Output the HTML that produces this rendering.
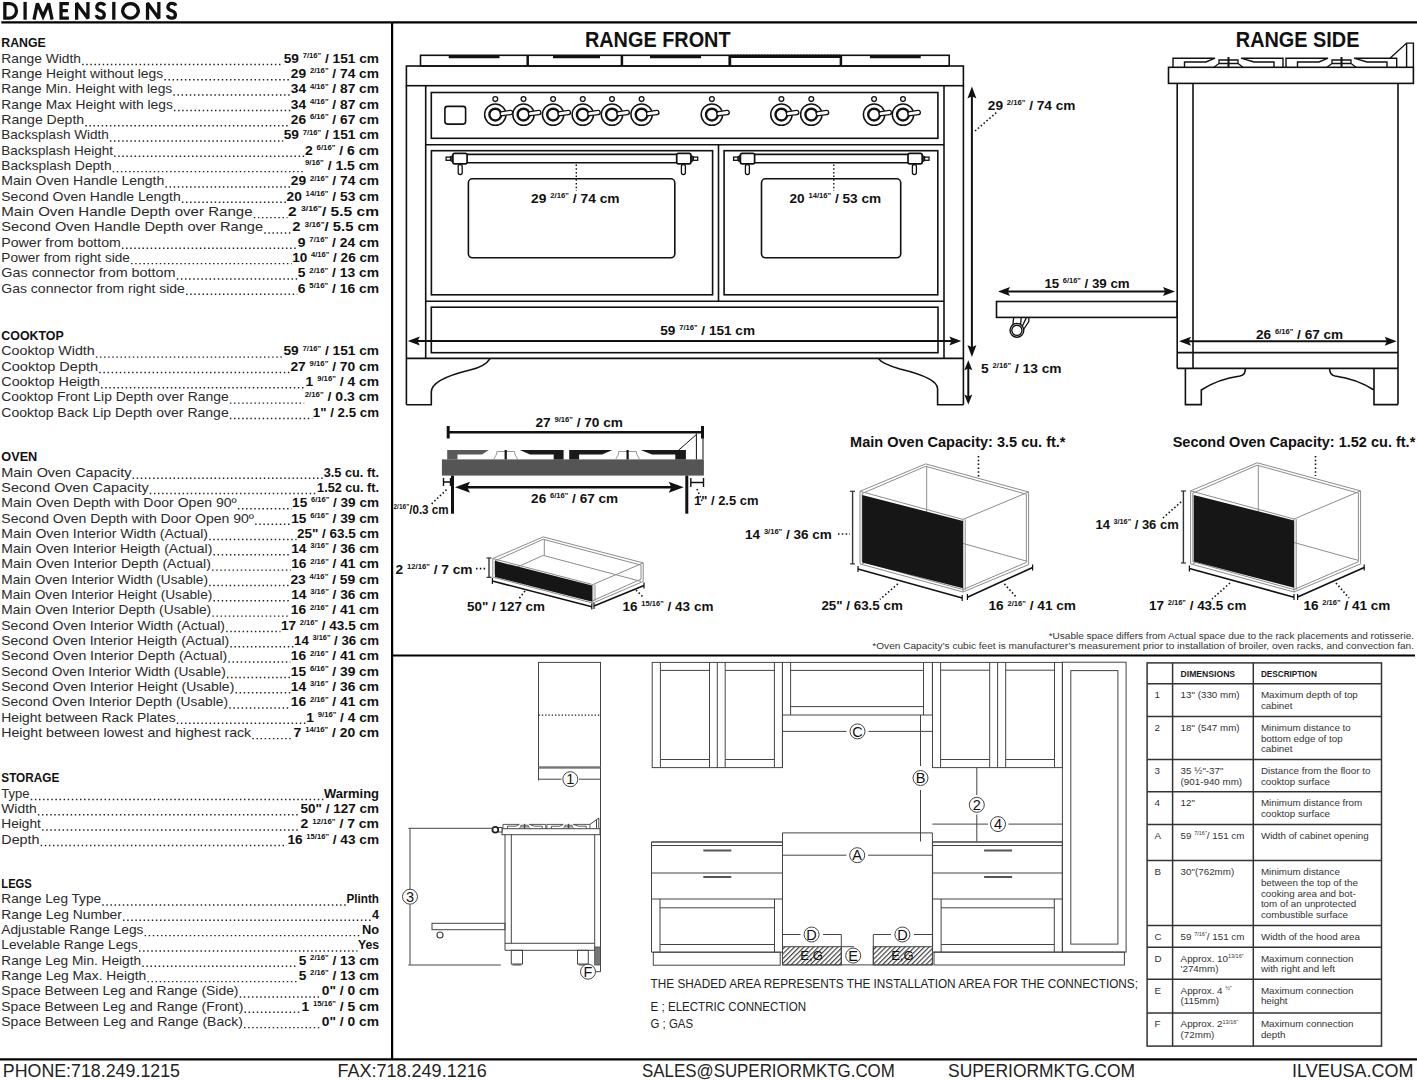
<!DOCTYPE html>
<html><head><meta charset="utf-8"><title>Dimensions</title>
<style>html,body{margin:0;padding:0;background:#fff;width:1417px;height:1080px;overflow:hidden}
svg{display:block} text{font-family:"Liberation Sans", sans-serif}</style></head>
<body><svg width="1417" height="1080" viewBox="0 0 1417 1080">
<rect width="1417" height="1080" fill="#fff"/>
<path d="M4.85,3.55 H9.9 A6.55,7.25 0 0 1 9.9,18.05 H4.85 Z" fill="none" stroke="#111" stroke-width="3.3" stroke-linejoin="miter" stroke-miterlimit="3"/>
<path d="M25.1,1.9 V19.7" fill="none" stroke="#111" stroke-width="3.3" stroke-linejoin="miter" stroke-miterlimit="3"/>
<path d="M34.0,19.7 L37.4,3.3 L43.05,16.6 L48.7,3.3 L52.1,19.7" fill="none" stroke="#111" stroke-width="3.3" stroke-linejoin="miter" stroke-miterlimit="3"/>
<path d="M68.9,3.55 H61.05 V18.05 H68.9 M61.05,10.7 H67.9" fill="none" stroke="#111" stroke-width="3.3" stroke-linejoin="miter" stroke-miterlimit="3"/>
<path d="M76.65,19.7 V3.0 L87.95,18.6 V1.9" fill="none" stroke="#111" stroke-width="3.3" stroke-linejoin="miter" stroke-miterlimit="3"/>
<path d="M104.69999999999999,5.6 C104.0,3.9 102.5,3.45 100.69999999999999,3.45 C98.39999999999999,3.45 96.8,4.9 96.8,6.9 C96.8,9.2 98.69999999999999,10.1 100.69999999999999,10.8 C103.0,11.6 104.3,12.8 104.3,14.9 C104.3,17 102.69999999999999,18.15 100.5,18.15 C98.3,18.15 96.69999999999999,17 96.19999999999999,15.1" fill="none" stroke="#111" stroke-width="3.3" stroke-linejoin="miter" stroke-miterlimit="3"/>
<path d="M113.8,1.9 V19.7" fill="none" stroke="#111" stroke-width="3.3" stroke-linejoin="miter" stroke-miterlimit="3"/>
<path d="M130.5,3.55 A7.75,7.25 0 1 1 130.49,3.55 Z" fill="none" stroke="#111" stroke-width="3.3" stroke-linejoin="miter" stroke-miterlimit="3"/>
<path d="M147.55,19.7 V3.0 L158.85,18.6 V1.9" fill="none" stroke="#111" stroke-width="3.3" stroke-linejoin="miter" stroke-miterlimit="3"/>
<path d="M175.79999999999998,5.6 C175.1,3.9 173.6,3.45 171.79999999999998,3.45 C169.5,3.45 167.89999999999998,4.9 167.89999999999998,6.9 C167.89999999999998,9.2 169.79999999999998,10.1 171.79999999999998,10.8 C174.1,11.6 175.39999999999998,12.8 175.39999999999998,14.9 C175.39999999999998,17 173.79999999999998,18.15 171.6,18.15 C169.39999999999998,18.15 167.79999999999998,17 167.29999999999998,15.1" fill="none" stroke="#111" stroke-width="3.3" stroke-linejoin="miter" stroke-miterlimit="3"/>
<line x1="1.3" y1="22.4" x2="1417.0" y2="22.4" stroke="#000" stroke-width="2.4"/>
<line x1="392.1" y1="22.0" x2="392.1" y2="1059.4" stroke="#000" stroke-width="2.2"/>
<line x1="392.1" y1="655.5" x2="1415.0" y2="655.5" stroke="#000" stroke-width="2.2"/>
<line x1="0.0" y1="1059.4" x2="1417.0" y2="1059.4" stroke="#000" stroke-width="2.2"/>
<text x="1.3" y="47.3" font-size="13" font-weight="bold" fill="#111" text-anchor="start" textLength="44.5" lengthAdjust="spacingAndGlyphs">RANGE</text>
<text x="1.3" y="62.7" font-size="13.2" font-weight="normal" fill="#2a2a2a" text-anchor="start" textLength="79.7" lengthAdjust="spacingAndGlyphs">Range Width</text>
<line x1="82.2" y1="64.4" x2="283.2" y2="64.4" stroke="#222" stroke-width="1.45" stroke-dasharray="1.45 2.65"/>
<text x="283.7" y="62.7" font-size="13" font-weight="bold" fill="#111" text-anchor="start" textLength="95.3" lengthAdjust="spacingAndGlyphs">59 <tspan font-size="7.28" dy="-4.68">7/16"</tspan><tspan dy="4.68"> / 151 cm</tspan></text>
<text x="1.3" y="78.0" font-size="13.2" font-weight="normal" fill="#2a2a2a" text-anchor="start" textLength="161.9" lengthAdjust="spacingAndGlyphs">Range Height without legs</text>
<line x1="164.4" y1="79.7" x2="290.3" y2="79.7" stroke="#222" stroke-width="1.45" stroke-dasharray="1.45 2.65"/>
<text x="290.8" y="78.0" font-size="13" font-weight="bold" fill="#111" text-anchor="start" textLength="88.2" lengthAdjust="spacingAndGlyphs">29 <tspan font-size="7.28" dy="-4.68">2/16"</tspan><tspan dy="4.68"> / 74 cm</tspan></text>
<text x="1.3" y="93.3" font-size="13.2" font-weight="normal" fill="#2a2a2a" text-anchor="start" textLength="170.9" lengthAdjust="spacingAndGlyphs">Range Min. Height with legs</text>
<line x1="173.4" y1="95.0" x2="290.3" y2="95.0" stroke="#222" stroke-width="1.45" stroke-dasharray="1.45 2.65"/>
<text x="290.8" y="93.3" font-size="13" font-weight="bold" fill="#111" text-anchor="start" textLength="88.2" lengthAdjust="spacingAndGlyphs">34 <tspan font-size="7.28" dy="-4.68">4/16"</tspan><tspan dy="4.68"> / 87 cm</tspan></text>
<text x="1.3" y="108.7" font-size="13.2" font-weight="normal" fill="#2a2a2a" text-anchor="start" textLength="171.5" lengthAdjust="spacingAndGlyphs">Range Max Height with legs</text>
<line x1="174.0" y1="110.4" x2="290.3" y2="110.4" stroke="#222" stroke-width="1.45" stroke-dasharray="1.45 2.65"/>
<text x="290.8" y="108.7" font-size="13" font-weight="bold" fill="#111" text-anchor="start" textLength="88.2" lengthAdjust="spacingAndGlyphs">34 <tspan font-size="7.28" dy="-4.68">4/16"</tspan><tspan dy="4.68"> / 87 cm</tspan></text>
<text x="1.3" y="124.0" font-size="13.2" font-weight="normal" fill="#2a2a2a" text-anchor="start" textLength="82.8" lengthAdjust="spacingAndGlyphs">Range Depth</text>
<line x1="85.3" y1="125.7" x2="290.3" y2="125.7" stroke="#222" stroke-width="1.45" stroke-dasharray="1.45 2.65"/>
<text x="290.8" y="124.0" font-size="13" font-weight="bold" fill="#111" text-anchor="start" textLength="88.2" lengthAdjust="spacingAndGlyphs">26 <tspan font-size="7.28" dy="-4.68">6/16"</tspan><tspan dy="4.68"> / 67 cm</tspan></text>
<text x="1.3" y="139.3" font-size="13.2" font-weight="normal" fill="#2a2a2a" text-anchor="start" textLength="107.4" lengthAdjust="spacingAndGlyphs">Backsplash Width</text>
<line x1="109.9" y1="141.0" x2="283.2" y2="141.0" stroke="#222" stroke-width="1.45" stroke-dasharray="1.45 2.65"/>
<text x="283.7" y="139.3" font-size="13" font-weight="bold" fill="#111" text-anchor="start" textLength="95.3" lengthAdjust="spacingAndGlyphs">59 <tspan font-size="7.28" dy="-4.68">7/16"</tspan><tspan dy="4.68"> / 151 cm</tspan></text>
<text x="1.3" y="154.6" font-size="13.2" font-weight="normal" fill="#2a2a2a" text-anchor="start" textLength="111.6" lengthAdjust="spacingAndGlyphs">Backsplash Height</text>
<line x1="114.1" y1="156.3" x2="304.4" y2="156.3" stroke="#222" stroke-width="1.45" stroke-dasharray="1.45 2.65"/>
<text x="304.9" y="154.6" font-size="13" font-weight="bold" fill="#111" text-anchor="start" textLength="74.1" lengthAdjust="spacingAndGlyphs">2 <tspan font-size="7.28" dy="-4.68">6/16"</tspan><tspan dy="4.68"> / 6 cm</tspan></text>
<text x="1.3" y="169.9" font-size="13.2" font-weight="normal" fill="#2a2a2a" text-anchor="start" textLength="110.2" lengthAdjust="spacingAndGlyphs">Backsplash Depth</text>
<line x1="112.7" y1="171.6" x2="304.4" y2="171.6" stroke="#222" stroke-width="1.45" stroke-dasharray="1.45 2.65"/>
<text x="304.9" y="169.9" font-size="13" font-weight="bold" fill="#111" text-anchor="start" textLength="74.1" lengthAdjust="spacingAndGlyphs"><tspan font-size="7.28" dy="-4.68">9/16"</tspan><tspan dy="4.68"> / 1.5 cm</tspan></text>
<text x="1.3" y="185.3" font-size="13.2" font-weight="normal" fill="#2a2a2a" text-anchor="start" textLength="163.0" lengthAdjust="spacingAndGlyphs">Main Oven Handle Length</text>
<line x1="165.5" y1="187.0" x2="290.3" y2="187.0" stroke="#222" stroke-width="1.45" stroke-dasharray="1.45 2.65"/>
<text x="290.8" y="185.3" font-size="13" font-weight="bold" fill="#111" text-anchor="start" textLength="88.2" lengthAdjust="spacingAndGlyphs">29 <tspan font-size="7.28" dy="-4.68">2/16"</tspan><tspan dy="4.68"> / 74 cm</tspan></text>
<text x="1.3" y="200.6" font-size="13.2" font-weight="normal" fill="#2a2a2a" text-anchor="start" textLength="179.4" lengthAdjust="spacingAndGlyphs">Second Oven Handle Length</text>
<line x1="181.9" y1="202.3" x2="286.0" y2="202.3" stroke="#222" stroke-width="1.45" stroke-dasharray="1.45 2.65"/>
<text x="286.5" y="200.6" font-size="13" font-weight="bold" fill="#111" text-anchor="start" textLength="92.5" lengthAdjust="spacingAndGlyphs">20 <tspan font-size="7.28" dy="-4.68">14/16"</tspan><tspan dy="4.68"> / 53 cm</tspan></text>
<text x="1.3" y="215.9" font-size="13.2" font-weight="normal" fill="#2a2a2a" text-anchor="start" textLength="251.3" lengthAdjust="spacingAndGlyphs">Main Oven Handle Depth over Range</text>
<line x1="253.8" y1="217.6" x2="287.5" y2="217.6" stroke="#222" stroke-width="1.45" stroke-dasharray="1.45 2.65"/>
<text x="288.0" y="215.9" font-size="13" font-weight="bold" fill="#111" text-anchor="start" textLength="91.0" lengthAdjust="spacingAndGlyphs">2 <tspan font-size="7.28" dy="-4.68">3/16"</tspan><tspan dy="4.68">/ 5.5 cm</tspan></text>
<text x="1.3" y="231.2" font-size="13.2" font-weight="normal" fill="#2a2a2a" text-anchor="start" textLength="261.8" lengthAdjust="spacingAndGlyphs">Second Oven Handle Depth over Range</text>
<line x1="264.3" y1="232.9" x2="291.7" y2="232.9" stroke="#222" stroke-width="1.45" stroke-dasharray="1.45 2.65"/>
<text x="292.2" y="231.2" font-size="13" font-weight="bold" fill="#111" text-anchor="start" textLength="86.8" lengthAdjust="spacingAndGlyphs">2 <tspan font-size="7.28" dy="-4.68">3/16"</tspan><tspan dy="4.68">/ 5.5 cm</tspan></text>
<text x="1.3" y="246.5" font-size="13.2" font-weight="normal" fill="#2a2a2a" text-anchor="start" textLength="119.5" lengthAdjust="spacingAndGlyphs">Power from bottom</text>
<line x1="122.0" y1="248.2" x2="297.3" y2="248.2" stroke="#222" stroke-width="1.45" stroke-dasharray="1.45 2.65"/>
<text x="297.8" y="246.5" font-size="13" font-weight="bold" fill="#111" text-anchor="start" textLength="81.2" lengthAdjust="spacingAndGlyphs">9 <tspan font-size="7.28" dy="-4.68">7/16"</tspan><tspan dy="4.68"> / 24 cm</tspan></text>
<text x="1.3" y="261.9" font-size="13.2" font-weight="normal" fill="#2a2a2a" text-anchor="start" textLength="128.6" lengthAdjust="spacingAndGlyphs">Power from right side</text>
<line x1="131.1" y1="263.6" x2="291.7" y2="263.6" stroke="#222" stroke-width="1.45" stroke-dasharray="1.45 2.65"/>
<text x="292.2" y="261.9" font-size="13" font-weight="bold" fill="#111" text-anchor="start" textLength="86.8" lengthAdjust="spacingAndGlyphs">10 <tspan font-size="7.28" dy="-4.68">4/16"</tspan><tspan dy="4.68"> / 26 cm</tspan></text>
<text x="1.3" y="277.2" font-size="13.2" font-weight="normal" fill="#2a2a2a" text-anchor="start" textLength="174.3" lengthAdjust="spacingAndGlyphs">Gas connector from bottom</text>
<line x1="176.8" y1="278.9" x2="297.3" y2="278.9" stroke="#222" stroke-width="1.45" stroke-dasharray="1.45 2.65"/>
<text x="297.8" y="277.2" font-size="13" font-weight="bold" fill="#111" text-anchor="start" textLength="81.2" lengthAdjust="spacingAndGlyphs">5 <tspan font-size="7.28" dy="-4.68">2/16"</tspan><tspan dy="4.68"> / 13 cm</tspan></text>
<text x="1.3" y="292.5" font-size="13.2" font-weight="normal" fill="#2a2a2a" text-anchor="start" textLength="183.6" lengthAdjust="spacingAndGlyphs">Gas connector from right side</text>
<line x1="186.1" y1="294.2" x2="297.3" y2="294.2" stroke="#222" stroke-width="1.45" stroke-dasharray="1.45 2.65"/>
<text x="297.8" y="292.5" font-size="13" font-weight="bold" fill="#111" text-anchor="start" textLength="81.2" lengthAdjust="spacingAndGlyphs">6 <tspan font-size="7.28" dy="-4.68">5/16"</tspan><tspan dy="4.68"> / 16 cm</tspan></text>
<text x="1.3" y="340.2" font-size="13" font-weight="bold" fill="#111" text-anchor="start" textLength="62.5" lengthAdjust="spacingAndGlyphs">COOKTOP</text>
<text x="1.3" y="355.4" font-size="13.2" font-weight="normal" fill="#2a2a2a" text-anchor="start" textLength="93.4" lengthAdjust="spacingAndGlyphs">Cooktop Width</text>
<line x1="95.9" y1="357.1" x2="283.0" y2="357.1" stroke="#222" stroke-width="1.45" stroke-dasharray="1.45 2.65"/>
<text x="283.5" y="355.4" font-size="13" font-weight="bold" fill="#111" text-anchor="start" textLength="95.5" lengthAdjust="spacingAndGlyphs">59 <tspan font-size="7.28" dy="-4.68">7/16"</tspan><tspan dy="4.68"> / 151 cm</tspan></text>
<text x="1.3" y="370.7" font-size="13.2" font-weight="normal" fill="#2a2a2a" text-anchor="start" textLength="96.8" lengthAdjust="spacingAndGlyphs">Cooktop Depth</text>
<line x1="99.3" y1="372.4" x2="289.9" y2="372.4" stroke="#222" stroke-width="1.45" stroke-dasharray="1.45 2.65"/>
<text x="290.4" y="370.7" font-size="13" font-weight="bold" fill="#111" text-anchor="start" textLength="88.6" lengthAdjust="spacingAndGlyphs">27 <tspan font-size="7.28" dy="-4.68">9/16"</tspan><tspan dy="4.68"> / 70 cm</tspan></text>
<text x="1.3" y="386.0" font-size="13.2" font-weight="normal" fill="#2a2a2a" text-anchor="start" textLength="98.6" lengthAdjust="spacingAndGlyphs">Cooktop Heigth</text>
<line x1="101.1" y1="387.7" x2="305.1" y2="387.7" stroke="#222" stroke-width="1.45" stroke-dasharray="1.45 2.65"/>
<text x="305.6" y="386.0" font-size="13" font-weight="bold" fill="#111" text-anchor="start" textLength="73.4" lengthAdjust="spacingAndGlyphs">1 <tspan font-size="7.28" dy="-4.68">9/16"</tspan><tspan dy="4.68"> / 4 cm</tspan></text>
<text x="1.3" y="401.4" font-size="13.2" font-weight="normal" fill="#2a2a2a" text-anchor="start" textLength="227.4" lengthAdjust="spacingAndGlyphs">Cooktop Front Lip Depth over Range</text>
<line x1="229.9" y1="403.1" x2="304.2" y2="403.1" stroke="#222" stroke-width="1.45" stroke-dasharray="1.45 2.65"/>
<text x="304.7" y="401.4" font-size="13" font-weight="bold" fill="#111" text-anchor="start" textLength="74.3" lengthAdjust="spacingAndGlyphs"><tspan font-size="7.28" dy="-4.68">2/16"</tspan><tspan dy="4.68"> / 0.3 cm</tspan></text>
<text x="1.3" y="416.7" font-size="13.2" font-weight="normal" fill="#2a2a2a" text-anchor="start" textLength="227.4" lengthAdjust="spacingAndGlyphs">Cooktop Back Lip Depth over Range</text>
<line x1="229.9" y1="418.4" x2="312.3" y2="418.4" stroke="#222" stroke-width="1.45" stroke-dasharray="1.45 2.65"/>
<text x="312.8" y="416.7" font-size="13" font-weight="bold" fill="#111" text-anchor="start" textLength="66.2" lengthAdjust="spacingAndGlyphs">1" / 2.5 cm</text>
<text x="1.3" y="461.3" font-size="13" font-weight="bold" fill="#111" text-anchor="start" textLength="36.0" lengthAdjust="spacingAndGlyphs">OVEN</text>
<text x="1.3" y="476.5" font-size="13.2" font-weight="normal" fill="#2a2a2a" text-anchor="start" textLength="130.1" lengthAdjust="spacingAndGlyphs">Main Oven Capacity</text>
<line x1="132.6" y1="478.2" x2="323.2" y2="478.2" stroke="#222" stroke-width="1.45" stroke-dasharray="1.45 2.65"/>
<text x="323.7" y="476.5" font-size="13" font-weight="bold" fill="#111" text-anchor="start" textLength="55.3" lengthAdjust="spacingAndGlyphs">3.5 cu. ft.</text>
<text x="1.3" y="491.8" font-size="13.2" font-weight="normal" fill="#2a2a2a" text-anchor="start" textLength="147.3" lengthAdjust="spacingAndGlyphs">Second Oven Capacity</text>
<line x1="149.8" y1="493.5" x2="316.6" y2="493.5" stroke="#222" stroke-width="1.45" stroke-dasharray="1.45 2.65"/>
<text x="317.1" y="491.8" font-size="13" font-weight="bold" fill="#111" text-anchor="start" textLength="61.9" lengthAdjust="spacingAndGlyphs">1.52 cu. ft.</text>
<text x="1.3" y="507.1" font-size="13.2" font-weight="normal" fill="#2a2a2a" text-anchor="start" textLength="235.4" lengthAdjust="spacingAndGlyphs">Main Oven Depth with Door Open 90º</text>
<line x1="237.9" y1="508.8" x2="291.6" y2="508.8" stroke="#222" stroke-width="1.45" stroke-dasharray="1.45 2.65"/>
<text x="292.1" y="507.1" font-size="13" font-weight="bold" fill="#111" text-anchor="start" textLength="86.9" lengthAdjust="spacingAndGlyphs">15 <tspan font-size="7.28" dy="-4.68">6/16"</tspan><tspan dy="4.68"> / 39 cm</tspan></text>
<text x="1.3" y="522.5" font-size="13.2" font-weight="normal" fill="#2a2a2a" text-anchor="start" textLength="252.7" lengthAdjust="spacingAndGlyphs">Second Oven Depth with Door Open 90º</text>
<line x1="255.2" y1="524.2" x2="290.7" y2="524.2" stroke="#222" stroke-width="1.45" stroke-dasharray="1.45 2.65"/>
<text x="291.2" y="522.5" font-size="13" font-weight="bold" fill="#111" text-anchor="start" textLength="87.8" lengthAdjust="spacingAndGlyphs">15 <tspan font-size="7.28" dy="-4.68">6/16"</tspan><tspan dy="4.68"> / 39 cm</tspan></text>
<text x="1.3" y="537.8" font-size="13.2" font-weight="normal" fill="#2a2a2a" text-anchor="start" textLength="206.7" lengthAdjust="spacingAndGlyphs">Main Oven Interior Width (Actual)</text>
<line x1="209.2" y1="539.5" x2="296.5" y2="539.5" stroke="#222" stroke-width="1.45" stroke-dasharray="1.45 2.65"/>
<text x="297.0" y="537.8" font-size="13" font-weight="bold" fill="#111" text-anchor="start" textLength="82.0" lengthAdjust="spacingAndGlyphs">25" / 63.5 cm</text>
<text x="1.3" y="553.1" font-size="13.2" font-weight="normal" fill="#2a2a2a" text-anchor="start" textLength="211.0" lengthAdjust="spacingAndGlyphs">Main Oven Interior Heigth (Actual)</text>
<line x1="213.5" y1="554.8" x2="290.7" y2="554.8" stroke="#222" stroke-width="1.45" stroke-dasharray="1.45 2.65"/>
<text x="291.2" y="553.1" font-size="13" font-weight="bold" fill="#111" text-anchor="start" textLength="87.8" lengthAdjust="spacingAndGlyphs">14 <tspan font-size="7.28" dy="-4.68">3/16"</tspan><tspan dy="4.68"> / 36 cm</tspan></text>
<text x="1.3" y="568.4" font-size="13.2" font-weight="normal" fill="#2a2a2a" text-anchor="start" textLength="209.6" lengthAdjust="spacingAndGlyphs">Main Oven Interior Depth (Actual)</text>
<line x1="212.1" y1="570.1" x2="290.7" y2="570.1" stroke="#222" stroke-width="1.45" stroke-dasharray="1.45 2.65"/>
<text x="291.2" y="568.4" font-size="13" font-weight="bold" fill="#111" text-anchor="start" textLength="87.8" lengthAdjust="spacingAndGlyphs">16 <tspan font-size="7.28" dy="-4.68">2/16"</tspan><tspan dy="4.68"> / 41 cm</tspan></text>
<text x="1.3" y="583.7" font-size="13.2" font-weight="normal" fill="#2a2a2a" text-anchor="start" textLength="206.7" lengthAdjust="spacingAndGlyphs">Main Oven Interior Width (Usable)</text>
<line x1="209.2" y1="585.4" x2="289.9" y2="585.4" stroke="#222" stroke-width="1.45" stroke-dasharray="1.45 2.65"/>
<text x="290.4" y="583.7" font-size="13" font-weight="bold" fill="#111" text-anchor="start" textLength="88.6" lengthAdjust="spacingAndGlyphs">23 <tspan font-size="7.28" dy="-4.68">4/16"</tspan><tspan dy="4.68"> / 59 cm</tspan></text>
<text x="1.3" y="599.1" font-size="13.2" font-weight="normal" fill="#2a2a2a" text-anchor="start" textLength="211.0" lengthAdjust="spacingAndGlyphs">Main Oven Interior Height (Usable)</text>
<line x1="213.5" y1="600.8" x2="290.7" y2="600.8" stroke="#222" stroke-width="1.45" stroke-dasharray="1.45 2.65"/>
<text x="291.2" y="599.1" font-size="13" font-weight="bold" fill="#111" text-anchor="start" textLength="87.8" lengthAdjust="spacingAndGlyphs">14 <tspan font-size="7.28" dy="-4.68">3/16"</tspan><tspan dy="4.68"> / 36 cm</tspan></text>
<text x="1.3" y="614.4" font-size="13.2" font-weight="normal" fill="#2a2a2a" text-anchor="start" textLength="209.9" lengthAdjust="spacingAndGlyphs">Main Oven Interior Depth (Usable)</text>
<line x1="212.4" y1="616.1" x2="290.3" y2="616.1" stroke="#222" stroke-width="1.45" stroke-dasharray="1.45 2.65"/>
<text x="290.8" y="614.4" font-size="13" font-weight="bold" fill="#111" text-anchor="start" textLength="88.2" lengthAdjust="spacingAndGlyphs">16 <tspan font-size="7.28" dy="-4.68">2/16"</tspan><tspan dy="4.68"> / 41 cm</tspan></text>
<text x="1.3" y="629.7" font-size="13.2" font-weight="normal" fill="#2a2a2a" text-anchor="start" textLength="223.7" lengthAdjust="spacingAndGlyphs">Second Oven Interior Width (Actual)</text>
<line x1="226.2" y1="631.4" x2="280.4" y2="631.4" stroke="#222" stroke-width="1.45" stroke-dasharray="1.45 2.65"/>
<text x="280.9" y="629.7" font-size="13" font-weight="bold" fill="#111" text-anchor="start" textLength="98.1" lengthAdjust="spacingAndGlyphs">17 <tspan font-size="7.28" dy="-4.68">2/16"</tspan><tspan dy="4.68"> / 43.5 cm</tspan></text>
<text x="1.3" y="645.0" font-size="13.2" font-weight="normal" fill="#2a2a2a" text-anchor="start" textLength="227.9" lengthAdjust="spacingAndGlyphs">Second Oven Interior Heigth (Actual)</text>
<line x1="230.4" y1="646.7" x2="293.6" y2="646.7" stroke="#222" stroke-width="1.45" stroke-dasharray="1.45 2.65"/>
<text x="294.1" y="645.0" font-size="13" font-weight="bold" fill="#111" text-anchor="start" textLength="84.9" lengthAdjust="spacingAndGlyphs">14 <tspan font-size="7.28" dy="-4.68">3/16"</tspan><tspan dy="4.68"> / 36 cm</tspan></text>
<text x="1.3" y="660.3" font-size="13.2" font-weight="normal" fill="#2a2a2a" text-anchor="start" textLength="225.9" lengthAdjust="spacingAndGlyphs">Second Oven Interior Depth (Actual)</text>
<line x1="228.4" y1="662.0" x2="290.3" y2="662.0" stroke="#222" stroke-width="1.45" stroke-dasharray="1.45 2.65"/>
<text x="290.8" y="660.3" font-size="13" font-weight="bold" fill="#111" text-anchor="start" textLength="88.2" lengthAdjust="spacingAndGlyphs">16 <tspan font-size="7.28" dy="-4.68">2/16"</tspan><tspan dy="4.68"> / 41 cm</tspan></text>
<text x="1.3" y="675.7" font-size="13.2" font-weight="normal" fill="#2a2a2a" text-anchor="start" textLength="224.5" lengthAdjust="spacingAndGlyphs">Second Oven Interior Width (Usable)</text>
<line x1="227.0" y1="677.4" x2="290.3" y2="677.4" stroke="#222" stroke-width="1.45" stroke-dasharray="1.45 2.65"/>
<text x="290.8" y="675.7" font-size="13" font-weight="bold" fill="#111" text-anchor="start" textLength="88.2" lengthAdjust="spacingAndGlyphs">15 <tspan font-size="7.28" dy="-4.68">6/16"</tspan><tspan dy="4.68"> / 39 cm</tspan></text>
<text x="1.3" y="691.0" font-size="13.2" font-weight="normal" fill="#2a2a2a" text-anchor="start" textLength="233.0" lengthAdjust="spacingAndGlyphs">Second Oven Interior Height (Usable)</text>
<line x1="235.5" y1="692.7" x2="290.3" y2="692.7" stroke="#222" stroke-width="1.45" stroke-dasharray="1.45 2.65"/>
<text x="290.8" y="691.0" font-size="13" font-weight="bold" fill="#111" text-anchor="start" textLength="88.2" lengthAdjust="spacingAndGlyphs">14 <tspan font-size="7.28" dy="-4.68">3/16"</tspan><tspan dy="4.68"> / 36 cm</tspan></text>
<text x="1.3" y="706.3" font-size="13.2" font-weight="normal" fill="#2a2a2a" text-anchor="start" textLength="226.8" lengthAdjust="spacingAndGlyphs">Second Oven Interior Depth (Usable)</text>
<line x1="229.3" y1="708.0" x2="290.3" y2="708.0" stroke="#222" stroke-width="1.45" stroke-dasharray="1.45 2.65"/>
<text x="290.8" y="706.3" font-size="13" font-weight="bold" fill="#111" text-anchor="start" textLength="88.2" lengthAdjust="spacingAndGlyphs">16 <tspan font-size="7.28" dy="-4.68">2/16"</tspan><tspan dy="4.68"> / 41 cm</tspan></text>
<text x="1.3" y="721.6" font-size="13.2" font-weight="normal" fill="#2a2a2a" text-anchor="start" textLength="174.3" lengthAdjust="spacingAndGlyphs">Height between Rack Plates</text>
<line x1="176.8" y1="723.3" x2="305.8" y2="723.3" stroke="#222" stroke-width="1.45" stroke-dasharray="1.45 2.65"/>
<text x="306.3" y="721.6" font-size="13" font-weight="bold" fill="#111" text-anchor="start" textLength="72.7" lengthAdjust="spacingAndGlyphs">1 <tspan font-size="7.28" dy="-4.68">9/16"</tspan><tspan dy="4.68"> / 4 cm</tspan></text>
<text x="1.3" y="736.9" font-size="13.2" font-weight="normal" fill="#2a2a2a" text-anchor="start" textLength="249.9" lengthAdjust="spacingAndGlyphs">Height between lowest and highest rack</text>
<line x1="252.4" y1="738.6" x2="293.1" y2="738.6" stroke="#222" stroke-width="1.45" stroke-dasharray="1.45 2.65"/>
<text x="293.6" y="736.9" font-size="13" font-weight="bold" fill="#111" text-anchor="start" textLength="85.4" lengthAdjust="spacingAndGlyphs">7 <tspan font-size="7.28" dy="-4.68">14/16"</tspan><tspan dy="4.68"> / 20 cm</tspan></text>
<text x="1.3" y="782.0" font-size="13" font-weight="bold" fill="#111" text-anchor="start" textLength="58.0" lengthAdjust="spacingAndGlyphs">STORAGE</text>
<text x="1.3" y="797.7" font-size="13.2" font-weight="normal" fill="#2a2a2a" text-anchor="start" textLength="28.3" lengthAdjust="spacingAndGlyphs">Type</text>
<line x1="30.8" y1="799.4" x2="323.6" y2="799.4" stroke="#222" stroke-width="1.45" stroke-dasharray="1.45 2.65"/>
<text x="324.1" y="797.7" font-size="13" font-weight="bold" fill="#111" text-anchor="start" textLength="54.9" lengthAdjust="spacingAndGlyphs">Warming</text>
<text x="1.3" y="813.0" font-size="13.2" font-weight="normal" fill="#2a2a2a" text-anchor="start" textLength="35.4" lengthAdjust="spacingAndGlyphs">Width</text>
<line x1="37.9" y1="814.7" x2="300.1" y2="814.7" stroke="#222" stroke-width="1.45" stroke-dasharray="1.45 2.65"/>
<text x="300.6" y="813.0" font-size="13" font-weight="bold" fill="#111" text-anchor="start" textLength="78.4" lengthAdjust="spacingAndGlyphs">50" / 127 cm</text>
<text x="1.3" y="828.3" font-size="13.2" font-weight="normal" fill="#2a2a2a" text-anchor="start" textLength="39.6" lengthAdjust="spacingAndGlyphs">Height</text>
<line x1="42.1" y1="830.0" x2="300.1" y2="830.0" stroke="#222" stroke-width="1.45" stroke-dasharray="1.45 2.65"/>
<text x="300.6" y="828.3" font-size="13" font-weight="bold" fill="#111" text-anchor="start" textLength="78.4" lengthAdjust="spacingAndGlyphs">2 <tspan font-size="7.28" dy="-4.68">12/16"</tspan><tspan dy="4.68"> / 7 cm</tspan></text>
<text x="1.3" y="843.7" font-size="13.2" font-weight="normal" fill="#2a2a2a" text-anchor="start" textLength="38.2" lengthAdjust="spacingAndGlyphs">Depth</text>
<line x1="40.7" y1="845.4" x2="286.9" y2="845.4" stroke="#222" stroke-width="1.45" stroke-dasharray="1.45 2.65"/>
<text x="287.4" y="843.7" font-size="13" font-weight="bold" fill="#111" text-anchor="start" textLength="91.6" lengthAdjust="spacingAndGlyphs">16 <tspan font-size="7.28" dy="-4.68">15/16"</tspan><tspan dy="4.68"> / 43 cm</tspan></text>
<text x="1.3" y="887.5" font-size="13" font-weight="bold" fill="#111" text-anchor="start" textLength="30.5" lengthAdjust="spacingAndGlyphs">LEGS</text>
<text x="1.3" y="903.3" font-size="13.2" font-weight="normal" fill="#2a2a2a" text-anchor="start" textLength="99.8" lengthAdjust="spacingAndGlyphs">Range Leg Type</text>
<line x1="102.3" y1="905.0" x2="346.1" y2="905.0" stroke="#222" stroke-width="1.45" stroke-dasharray="1.45 2.65"/>
<text x="346.6" y="903.3" font-size="13" font-weight="bold" fill="#111" text-anchor="start" textLength="32.4" lengthAdjust="spacingAndGlyphs">Plinth</text>
<text x="1.3" y="918.6" font-size="13.2" font-weight="normal" fill="#2a2a2a" text-anchor="start" textLength="120.6" lengthAdjust="spacingAndGlyphs">Range Leg Number</text>
<line x1="123.1" y1="920.3" x2="371.5" y2="920.3" stroke="#222" stroke-width="1.45" stroke-dasharray="1.45 2.65"/>
<text x="372.0" y="918.6" font-size="13" font-weight="bold" fill="#111" text-anchor="start" textLength="7.0" lengthAdjust="spacingAndGlyphs">4</text>
<text x="1.3" y="933.9" font-size="13.2" font-weight="normal" fill="#2a2a2a" text-anchor="start" textLength="142.1" lengthAdjust="spacingAndGlyphs">Adjustable Range Legs</text>
<line x1="144.6" y1="935.6" x2="361.4" y2="935.6" stroke="#222" stroke-width="1.45" stroke-dasharray="1.45 2.65"/>
<text x="361.9" y="933.9" font-size="13" font-weight="bold" fill="#111" text-anchor="start" textLength="17.1" lengthAdjust="spacingAndGlyphs">No</text>
<text x="1.3" y="949.3" font-size="13.2" font-weight="normal" fill="#2a2a2a" text-anchor="start" textLength="136.5" lengthAdjust="spacingAndGlyphs">Levelable Range Legs</text>
<line x1="139.0" y1="951.0" x2="357.4" y2="951.0" stroke="#222" stroke-width="1.45" stroke-dasharray="1.45 2.65"/>
<text x="357.9" y="949.3" font-size="13" font-weight="bold" fill="#111" text-anchor="start" textLength="21.1" lengthAdjust="spacingAndGlyphs">Yes</text>
<text x="1.3" y="964.6" font-size="13.2" font-weight="normal" fill="#2a2a2a" text-anchor="start" textLength="139.8" lengthAdjust="spacingAndGlyphs">Range Leg Min. Heigth</text>
<line x1="142.3" y1="966.3" x2="298.2" y2="966.3" stroke="#222" stroke-width="1.45" stroke-dasharray="1.45 2.65"/>
<text x="298.7" y="964.6" font-size="13" font-weight="bold" fill="#111" text-anchor="start" textLength="80.3" lengthAdjust="spacingAndGlyphs">5 <tspan font-size="7.28" dy="-4.68">2/16"</tspan><tspan dy="4.68"> / 13 cm</tspan></text>
<text x="1.3" y="979.9" font-size="13.2" font-weight="normal" fill="#2a2a2a" text-anchor="start" textLength="144.9" lengthAdjust="spacingAndGlyphs">Range Leg Max. Heigth</text>
<line x1="147.4" y1="981.6" x2="298.2" y2="981.6" stroke="#222" stroke-width="1.45" stroke-dasharray="1.45 2.65"/>
<text x="298.7" y="979.9" font-size="13" font-weight="bold" fill="#111" text-anchor="start" textLength="80.3" lengthAdjust="spacingAndGlyphs">5 <tspan font-size="7.28" dy="-4.68">2/16"</tspan><tspan dy="4.68"> / 13 cm</tspan></text>
<text x="1.3" y="995.2" font-size="13.2" font-weight="normal" fill="#2a2a2a" text-anchor="start" textLength="237.2" lengthAdjust="spacingAndGlyphs">Space Between Leg and Range (Side)</text>
<line x1="239.7" y1="996.9" x2="321.3" y2="996.9" stroke="#222" stroke-width="1.45" stroke-dasharray="1.45 2.65"/>
<text x="321.8" y="995.2" font-size="13" font-weight="bold" fill="#111" text-anchor="start" textLength="57.2" lengthAdjust="spacingAndGlyphs">0" / 0 cm</text>
<text x="1.3" y="1010.5" font-size="13.2" font-weight="normal" fill="#2a2a2a" text-anchor="start" textLength="242.0" lengthAdjust="spacingAndGlyphs">Space Between Leg and Range (Front)</text>
<line x1="244.5" y1="1012.2" x2="301.0" y2="1012.2" stroke="#222" stroke-width="1.45" stroke-dasharray="1.45 2.65"/>
<text x="301.5" y="1010.5" font-size="13" font-weight="bold" fill="#111" text-anchor="start" textLength="77.5" lengthAdjust="spacingAndGlyphs">1 <tspan font-size="7.28" dy="-4.68">15/16"</tspan><tspan dy="4.68"> / 5 cm</tspan></text>
<text x="1.3" y="1025.9" font-size="13.2" font-weight="normal" fill="#2a2a2a" text-anchor="start" textLength="241.5" lengthAdjust="spacingAndGlyphs">Space Between Leg and Range (Back)</text>
<line x1="244.0" y1="1027.6" x2="321.3" y2="1027.6" stroke="#222" stroke-width="1.45" stroke-dasharray="1.45 2.65"/>
<text x="321.8" y="1025.9" font-size="13" font-weight="bold" fill="#111" text-anchor="start" textLength="57.2" lengthAdjust="spacingAndGlyphs">0" / 0 cm</text>
<text x="2.8" y="1076.6" font-size="17.8" font-weight="normal" fill="#222" text-anchor="start" textLength="177.2" lengthAdjust="spacingAndGlyphs">PHONE:718.249.1215</text>
<text x="337.5" y="1076.6" font-size="17.8" font-weight="normal" fill="#222" text-anchor="start" textLength="149.2" lengthAdjust="spacingAndGlyphs">FAX:718.249.1216</text>
<text x="642.0" y="1076.6" font-size="17.8" font-weight="normal" fill="#222" text-anchor="start" textLength="252.8" lengthAdjust="spacingAndGlyphs">SALES@SUPERIORMKTG.COM</text>
<text x="948.0" y="1076.6" font-size="17.8" font-weight="normal" fill="#222" text-anchor="start" textLength="187.0" lengthAdjust="spacingAndGlyphs">SUPERIORMKTG.COM</text>
<text x="1292.0" y="1076.6" font-size="17.8" font-weight="normal" fill="#222" text-anchor="start" textLength="121.5" lengthAdjust="spacingAndGlyphs">ILVEUSA.COM</text>
<text x="584.9" y="46.9" font-size="21.5" font-weight="bold" fill="#111" text-anchor="start" textLength="145.7" lengthAdjust="spacingAndGlyphs">RANGE FRONT</text>
<text x="1235.8" y="46.8" font-size="21.5" font-weight="bold" fill="#111" text-anchor="start" textLength="123.7" lengthAdjust="spacingAndGlyphs">RANGE SIDE</text>
<rect x="420.5" y="55.3" width="528.7" height="10.7" rx="0" stroke="#111" stroke-width="1.6" fill="none"/>
<line x1="527.7" y1="55.3" x2="527.7" y2="66.0" stroke="#111" stroke-width="2.5"/>
<line x1="621.9" y1="55.3" x2="621.9" y2="66.0" stroke="#111" stroke-width="2.5"/>
<line x1="840.9" y1="55.3" x2="840.9" y2="66.0" stroke="#111" stroke-width="2.5"/>
<line x1="729.8" y1="55.3" x2="729.8" y2="66.0" stroke="#111" stroke-width="2.8"/>
<line x1="448.7" y1="57.2" x2="499.5" y2="57.2" stroke="#111" stroke-width="2.2"/>
<line x1="553.0" y1="57.2" x2="600.0" y2="57.2" stroke="#111" stroke-width="2.2"/>
<line x1="650.0" y1="57.2" x2="701.0" y2="57.2" stroke="#111" stroke-width="2.2"/>
<line x1="869.9" y1="57.2" x2="920.7" y2="57.2" stroke="#111" stroke-width="2.2"/>
<line x1="731.0" y1="56.8" x2="840.0" y2="56.8" stroke="#111" stroke-width="2.2"/>
<line x1="731.0" y1="54.5" x2="840.0" y2="54.5" stroke="#555" stroke-width="1" stroke-dasharray="1.5 1.5"/>
<rect x="406.4" y="66.0" width="557.0" height="19.7" rx="0" stroke="#111" stroke-width="1.6" fill="none"/>
<line x1="406.4" y1="85.7" x2="406.4" y2="404.7" stroke="#111" stroke-width="1.6"/>
<line x1="963.4" y1="85.7" x2="963.4" y2="404.7" stroke="#111" stroke-width="1.6"/>
<line x1="425.7" y1="85.7" x2="425.7" y2="358.4" stroke="#111" stroke-width="1.6"/>
<line x1="944.0" y1="85.7" x2="944.0" y2="358.4" stroke="#111" stroke-width="1.6"/>
<rect x="431.3" y="92.5" width="506.6" height="45.8" rx="0" stroke="#111" stroke-width="1.6" fill="none"/>
<line x1="425.7" y1="144.7" x2="944.0" y2="144.7" stroke="#111" stroke-width="1.6"/>
<rect x="431.4" y="150.7" width="281.2" height="144.1" rx="0" stroke="#111" stroke-width="1.6" fill="none"/>
<rect x="724.1" y="150.7" width="213.7" height="144.1" rx="0" stroke="#111" stroke-width="1.6" fill="none"/>
<line x1="718.5" y1="144.7" x2="718.5" y2="301.2" stroke="#111" stroke-width="1.6"/>
<line x1="425.7" y1="301.2" x2="944.0" y2="301.2" stroke="#111" stroke-width="1.6"/>
<rect x="431.3" y="307.2" width="506.7" height="45.5" rx="0" stroke="#111" stroke-width="1.6" fill="none"/>
<line x1="406.4" y1="358.4" x2="963.4" y2="358.4" stroke="#111" stroke-width="1.6"/>
<path d="M406.4,404.7 L431.3,404.7 L431.3,392 C431.3,383 445,376 470,370 C484,367 488,362 490.3,358.4" stroke="#111" stroke-width="1.6" fill="none"/>
<path d="M963.4,404.7 L937.6,404.7 L937.6,388.7 C937.6,381 925,375 900,369 C886,365 880,361 878.3,358.4" stroke="#111" stroke-width="1.6" fill="none"/>
<rect x="444.9" y="106.4" width="20.7" height="17.7" rx="2.5" stroke="#111" stroke-width="1.6" fill="none"/>
<circle cx="495.3" cy="99.1" r="2.4" stroke="#111" stroke-width="1.3" fill="none"/>
<circle cx="495.3" cy="114.6" r="10.7" stroke="#111" stroke-width="1.5" fill="#fff"/>
<circle cx="495.3" cy="114.6" r="5.9" stroke="#111" stroke-width="2.4" fill="none"/>
<g transform="translate(495.3,114.6) rotate(-8)"><rect x="5" y="-2.1" width="12.5" height="4.2" rx="2" fill="#fff" stroke="#111" stroke-width="1.3"/></g>
<circle cx="523.5" cy="99.1" r="2.4" stroke="#111" stroke-width="1.3" fill="none"/>
<circle cx="523.5" cy="114.6" r="10.7" stroke="#111" stroke-width="1.5" fill="#fff"/>
<circle cx="523.5" cy="114.6" r="5.9" stroke="#111" stroke-width="2.4" fill="none"/>
<g transform="translate(523.5,114.6) rotate(-8)"><rect x="5" y="-2.1" width="12.5" height="4.2" rx="2" fill="#fff" stroke="#111" stroke-width="1.3"/></g>
<circle cx="553.1" cy="99.1" r="2.4" stroke="#111" stroke-width="1.3" fill="none"/>
<circle cx="553.1" cy="114.6" r="10.7" stroke="#111" stroke-width="1.5" fill="#fff"/>
<circle cx="553.1" cy="114.6" r="5.9" stroke="#111" stroke-width="2.4" fill="none"/>
<g transform="translate(553.1,114.6) rotate(-8)"><rect x="5" y="-2.1" width="12.5" height="4.2" rx="2" fill="#fff" stroke="#111" stroke-width="1.3"/></g>
<circle cx="582.8" cy="99.1" r="2.4" stroke="#111" stroke-width="1.3" fill="none"/>
<circle cx="582.8" cy="114.6" r="10.7" stroke="#111" stroke-width="1.5" fill="#fff"/>
<circle cx="582.8" cy="114.6" r="5.9" stroke="#111" stroke-width="2.4" fill="none"/>
<g transform="translate(582.8,114.6) rotate(-8)"><rect x="5" y="-2.1" width="12.5" height="4.2" rx="2" fill="#fff" stroke="#111" stroke-width="1.3"/></g>
<circle cx="612.0" cy="99.1" r="2.4" stroke="#111" stroke-width="1.3" fill="none"/>
<circle cx="612.0" cy="114.6" r="10.7" stroke="#111" stroke-width="1.5" fill="#fff"/>
<circle cx="612.0" cy="114.6" r="5.9" stroke="#111" stroke-width="2.4" fill="none"/>
<g transform="translate(612.0,114.6) rotate(-8)"><rect x="5" y="-2.1" width="12.5" height="4.2" rx="2" fill="#fff" stroke="#111" stroke-width="1.3"/></g>
<circle cx="641.6" cy="99.1" r="2.4" stroke="#111" stroke-width="1.3" fill="none"/>
<circle cx="641.6" cy="114.6" r="10.7" stroke="#111" stroke-width="1.5" fill="#fff"/>
<circle cx="641.6" cy="114.6" r="5.9" stroke="#111" stroke-width="2.4" fill="none"/>
<g transform="translate(641.6,114.6) rotate(-8)"><rect x="5" y="-2.1" width="12.5" height="4.2" rx="2" fill="#fff" stroke="#111" stroke-width="1.3"/></g>
<circle cx="711.9" cy="99.1" r="2.4" stroke="#111" stroke-width="1.3" fill="none"/>
<circle cx="711.9" cy="114.6" r="10.7" stroke="#111" stroke-width="1.5" fill="#fff"/>
<circle cx="711.9" cy="114.6" r="5.9" stroke="#111" stroke-width="2.4" fill="none"/>
<g transform="translate(711.9,114.6) rotate(-8)"><rect x="5" y="-2.1" width="12.5" height="4.2" rx="2" fill="#fff" stroke="#111" stroke-width="1.3"/></g>
<circle cx="781.4" cy="99.1" r="2.4" stroke="#111" stroke-width="1.3" fill="none"/>
<circle cx="781.4" cy="114.6" r="10.7" stroke="#111" stroke-width="1.5" fill="#fff"/>
<circle cx="781.4" cy="114.6" r="5.9" stroke="#111" stroke-width="2.4" fill="none"/>
<g transform="translate(781.4,114.6) rotate(-8)"><rect x="5" y="-2.1" width="12.5" height="4.2" rx="2" fill="#fff" stroke="#111" stroke-width="1.3"/></g>
<circle cx="811.3" cy="99.1" r="2.4" stroke="#111" stroke-width="1.3" fill="none"/>
<circle cx="811.3" cy="114.6" r="10.7" stroke="#111" stroke-width="1.5" fill="#fff"/>
<circle cx="811.3" cy="114.6" r="5.9" stroke="#111" stroke-width="2.4" fill="none"/>
<g transform="translate(811.3,114.6) rotate(-8)"><rect x="5" y="-2.1" width="12.5" height="4.2" rx="2" fill="#fff" stroke="#111" stroke-width="1.3"/></g>
<circle cx="874.1" cy="99.1" r="2.4" stroke="#111" stroke-width="1.3" fill="none"/>
<circle cx="874.1" cy="114.6" r="10.7" stroke="#111" stroke-width="1.5" fill="#fff"/>
<circle cx="874.1" cy="114.6" r="5.9" stroke="#111" stroke-width="2.4" fill="none"/>
<g transform="translate(874.1,114.6) rotate(-8)"><rect x="5" y="-2.1" width="12.5" height="4.2" rx="2" fill="#fff" stroke="#111" stroke-width="1.3"/></g>
<circle cx="903.0" cy="99.1" r="2.4" stroke="#111" stroke-width="1.3" fill="none"/>
<circle cx="903.0" cy="114.6" r="10.7" stroke="#111" stroke-width="1.5" fill="#fff"/>
<circle cx="903.0" cy="114.6" r="5.9" stroke="#111" stroke-width="2.4" fill="none"/>
<g transform="translate(903.0,114.6) rotate(-8)"><rect x="5" y="-2.1" width="12.5" height="4.2" rx="2" fill="#fff" stroke="#111" stroke-width="1.3"/></g>
<rect x="446.1" y="157.1" width="4.8" height="3.2" rx="0" stroke="#111" stroke-width="1.3" fill="#fff"/>
<path d="M450.4,156.6 L453.9,155 L453.9,162.4 L450.4,160.8 Z" stroke="#111" stroke-width="1" fill="#333"/>
<rect x="692.9" y="157.1" width="4.8" height="3.2" rx="0" stroke="#111" stroke-width="1.3" fill="#fff"/>
<path d="M693.4,156.6 L689.9,155 L689.9,162.4 L693.4,160.8 Z" stroke="#111" stroke-width="1" fill="#333"/>
<rect x="452.9" y="153.3" width="14.2" height="10.5" rx="1.8" stroke="#111" stroke-width="1.7" fill="#fff"/>
<rect x="676.7" y="153.3" width="14.2" height="10.5" rx="1.8" stroke="#111" stroke-width="1.7" fill="#fff"/>
<line x1="467.1" y1="154.4" x2="676.7" y2="154.4" stroke="#111" stroke-width="1.6"/>
<line x1="467.1" y1="162.7" x2="676.7" y2="162.7" stroke="#111" stroke-width="1.6"/>
<rect x="458.2" y="164.5" width="4.0" height="10.1" rx="2" stroke="#111" stroke-width="1.3" fill="#fff"/>
<rect x="681.4" y="164.5" width="4.0" height="10.1" rx="2" stroke="#111" stroke-width="1.3" fill="#fff"/>
<rect x="733.6" y="157.1" width="4.8" height="3.2" rx="0" stroke="#111" stroke-width="1.3" fill="#fff"/>
<path d="M737.9,156.6 L741.4,155 L741.4,162.4 L737.9,160.8 Z" stroke="#111" stroke-width="1" fill="#333"/>
<rect x="924.2" y="157.1" width="4.8" height="3.2" rx="0" stroke="#111" stroke-width="1.3" fill="#fff"/>
<path d="M924.7,156.6 L921.2,155 L921.2,162.4 L924.7,160.8 Z" stroke="#111" stroke-width="1" fill="#333"/>
<rect x="740.4" y="153.3" width="14.2" height="10.5" rx="1.8" stroke="#111" stroke-width="1.7" fill="#fff"/>
<rect x="908.0" y="153.3" width="14.2" height="10.5" rx="1.8" stroke="#111" stroke-width="1.7" fill="#fff"/>
<line x1="754.6" y1="154.4" x2="908.0" y2="154.4" stroke="#111" stroke-width="1.6"/>
<line x1="754.6" y1="162.7" x2="908.0" y2="162.7" stroke="#111" stroke-width="1.6"/>
<rect x="745.4" y="164.5" width="4.0" height="10.1" rx="2" stroke="#111" stroke-width="1.3" fill="#fff"/>
<rect x="912.4" y="164.5" width="4.0" height="10.1" rx="2" stroke="#111" stroke-width="1.3" fill="#fff"/>
<rect x="468.4" y="178.8" width="206.4" height="79.0" rx="4" stroke="#111" stroke-width="1.6" fill="none"/>
<rect x="761.5" y="178.8" width="139.2" height="79.0" rx="4" stroke="#111" stroke-width="1.6" fill="none"/>
<line x1="576.3" y1="164.5" x2="576.3" y2="191.0" stroke="#111" stroke-width="1.4" stroke-dasharray="1.5 2.2"/>
<line x1="833.8" y1="164.5" x2="833.8" y2="191.0" stroke="#111" stroke-width="1.4" stroke-dasharray="1.5 2.2"/>
<text x="531.1" y="203.1" font-size="12.8" font-weight="bold" fill="#111" text-anchor="start" textLength="88.5" lengthAdjust="spacingAndGlyphs">29 <tspan font-size="7.17" dy="-4.61">2/16"</tspan><tspan dy="4.61"> / 74 cm</tspan></text>
<text x="789.5" y="203.1" font-size="12.8" font-weight="bold" fill="#111" text-anchor="start" textLength="91.7" lengthAdjust="spacingAndGlyphs">20 <tspan font-size="7.17" dy="-4.61">14/16"</tspan><tspan dy="4.61"> / 53 cm</tspan></text>
<line x1="412.0" y1="341.0" x2="957.0" y2="341.0" stroke="#111" stroke-width="2"/>
<path d="M407.8,341.0 L419.8,336.5 L417.6,341.0 L419.8,345.5 Z" fill="#111"/>
<path d="M961.3,341.0 L949.3,345.5 L951.5,341.0 L949.3,336.5 Z" fill="#111"/>
<text x="660.3" y="335.1" font-size="12.8" font-weight="bold" fill="#111" text-anchor="start" textLength="94.7" lengthAdjust="spacingAndGlyphs">59 <tspan font-size="7.17" dy="-4.61">7/16"</tspan><tspan dy="4.61"> / 151 cm</tspan></text>
<line x1="971.9" y1="92.0" x2="971.9" y2="352.0" stroke="#111" stroke-width="2"/>
<path d="M971.9,86.4 L976.4,98.4 L971.9,96.2 L967.4,98.4 Z" fill="#111"/>
<path d="M971.9,357.0 L967.4,345.0 L971.9,347.2 L976.4,345.0 Z" fill="#111"/>
<line x1="968.3" y1="366.0" x2="968.3" y2="399.0" stroke="#111" stroke-width="2"/>
<path d="M968.3,360.2 L972.3,370.2 L968.3,368.4 L964.3,370.2 Z" fill="#111"/>
<path d="M968.3,404.6 L964.3,394.6 L968.3,396.4 L972.3,394.6 Z" fill="#111"/>
<text x="987.8" y="109.8" font-size="12.8" font-weight="bold" fill="#111" text-anchor="start" textLength="87.7" lengthAdjust="spacingAndGlyphs">29 <tspan font-size="7.17" dy="-4.61">2/16"</tspan><tspan dy="4.61"> / 74 cm</tspan></text>
<line x1="975.0" y1="131.0" x2="997.0" y2="112.0" stroke="#111" stroke-width="1.6" stroke-dasharray="1.5 2.3"/>
<text x="981.0" y="373.1" font-size="12.8" font-weight="bold" fill="#111" text-anchor="start" textLength="80.5" lengthAdjust="spacingAndGlyphs">5 <tspan font-size="7.17" dy="-4.61">2/16"</tspan><tspan dy="4.61"> / 13 cm</tspan></text>
<rect x="996.5" y="301.5" width="180.7" height="15.9" rx="0" stroke="#111" stroke-width="1.6" fill="#fff"/>
<line x1="1003.0" y1="291.4" x2="1170.0" y2="291.4" stroke="#111" stroke-width="2"/>
<path d="M998.0,291.4 L1010.0,286.9 L1007.8,291.4 L1010.0,295.9 Z" fill="#111"/>
<path d="M1175.0,291.4 L1163.0,295.9 L1165.2,291.4 L1163.0,286.9 Z" fill="#111"/>
<text x="1044.4" y="287.6" font-size="12.8" font-weight="bold" fill="#111" text-anchor="start" textLength="85.2" lengthAdjust="spacingAndGlyphs">15 <tspan font-size="7.17" dy="-4.61">6/16"</tspan><tspan dy="4.61"> / 39 cm</tspan></text>
<path d="M1013.7,317.4 L1012.8,325.5 M1021.2,317.4 L1020.6,324.8 M1026.5,317.4 L1022.2,326.5 M1028.8,317.4 L1028.8,321.5 L1023.5,329.5" stroke="#111" stroke-width="1.3" fill="none"/>
<circle cx="1016.9" cy="330.3" r="6.9" stroke="#111" stroke-width="1.4" fill="#fff"/>
<circle cx="1016.9" cy="330.3" r="5.1" stroke="#111" stroke-width="1.4" fill="none"/>
<rect x="1168.5" y="67.3" width="244.9" height="16.1" rx="0" stroke="#111" stroke-width="1.6" fill="none"/>
<line x1="1177.2" y1="83.4" x2="1177.2" y2="368.4" stroke="#111" stroke-width="1.6"/>
<line x1="1193.0" y1="83.4" x2="1193.0" y2="368.4" stroke="#111" stroke-width="1.6"/>
<line x1="1398.0" y1="83.4" x2="1398.0" y2="404.6" stroke="#111" stroke-width="1.6"/>
<line x1="1177.2" y1="352.6" x2="1398.0" y2="352.6" stroke="#111" stroke-width="1.6"/>
<line x1="1177.2" y1="368.4" x2="1398.0" y2="368.4" stroke="#111" stroke-width="1.6"/>
<path d="M1185.4,368.4 L1185.4,404.6 L1201.3,404.6 L1201.3,390 C1212,383 1225,378 1240,376 C1245,375 1245.5,371 1245.2,368.4" stroke="#111" stroke-width="1.6" fill="none"/>
<path d="M1374,368.4 L1374,404.6 L1398,404.6 M1374,404.6 L1374,390 C1363,383 1350,378 1335,376 C1330,375 1329.5,371 1329.6,368.4" stroke="#111" stroke-width="1.6" fill="none"/>
<line x1="1185.0" y1="341.3" x2="1391.0" y2="341.3" stroke="#111" stroke-width="2"/>
<path d="M1179.0,341.3 L1191.0,336.8 L1188.8,341.3 L1191.0,345.8 Z" fill="#111"/>
<path d="M1396.7,341.3 L1384.7,345.8 L1386.9,341.3 L1384.7,336.8 Z" fill="#111"/>
<text x="1256.0" y="338.9" font-size="12.8" font-weight="bold" fill="#111" text-anchor="start" textLength="87.2" lengthAdjust="spacingAndGlyphs">26 <tspan font-size="7.17" dy="-4.61">6/16"</tspan><tspan dy="4.61"> / 67 cm</tspan></text>
<path d="M1173,67.3 L1173,58.2 L1215,58.2 L1206,62 L1184.5,62 L1184.5,67.3" stroke="#111" stroke-width="1.4" fill="none" vector-effect="non-scaling-stroke"/>
<path d="M1214,67.3 L1219,63.5 L1219,60 L1238,60 L1238,63.5 L1243,67.3 M1219,63.5 L1238,63.5" stroke="#111" stroke-width="1.302" fill="none" vector-effect="non-scaling-stroke"/>
<line x1="1228.5" y1="57.0" x2="1228.5" y2="67.3" stroke="#111" stroke-width="2" vector-effect="non-scaling-stroke"/>
<path d="M1241,58.2 L1283,58.2 L1283,67.3 M1241,58.2 L1254,62 L1274,62 L1274,67.3" stroke="#111" stroke-width="1.4" fill="none" vector-effect="non-scaling-stroke"/>
<path d="M1286,67.3 L1286,58.2 L1328,58.2 L1319,62 L1297.5,62 L1297.5,67.3" stroke="#111" stroke-width="1.4" fill="none" vector-effect="non-scaling-stroke"/>
<path d="M1327,67.3 L1332,63.5 L1332,60 L1351,60 L1351,63.5 L1356,67.3 M1332,63.5 L1351,63.5" stroke="#111" stroke-width="1.302" fill="none" vector-effect="non-scaling-stroke"/>
<line x1="1341.5" y1="57.0" x2="1341.5" y2="67.3" stroke="#111" stroke-width="2" vector-effect="non-scaling-stroke"/>
<path d="M1354,58.2 L1396.7,58.2 L1396.7,67.3 M1354,58.2 L1367,62 L1387,62 L1387,67.3" stroke="#111" stroke-width="1.4" fill="none" vector-effect="non-scaling-stroke"/>
<path d="M1390,58.2 L1406.6,43.1 L1413.4,43.1 L1413.4,67.3 M1406.6,43.1 L1406.6,67.3" stroke="#111" stroke-width="1.4" fill="none"/>
<text x="535.4" y="426.7" font-size="12.8" font-weight="bold" fill="#111" text-anchor="start" textLength="87.6" lengthAdjust="spacingAndGlyphs">27 <tspan font-size="7.17" dy="-4.61">9/16"</tspan><tspan dy="4.61"> / 70 cm</tspan></text>
<line x1="448.2" y1="432.3" x2="702.5" y2="432.3" stroke="#111" stroke-width="2.6"/>
<line x1="448.2" y1="426.0" x2="448.2" y2="438.5" stroke="#111" stroke-width="3"/>
<line x1="702.5" y1="426.0" x2="702.5" y2="438.5" stroke="#111" stroke-width="3"/>
<rect x="441.9" y="459.4" width="262.0" height="16.2" rx="0" stroke="#111" stroke-width="0" fill="#555"/>
<path d="M447.2,459.4 L447.2,450 L488.8,450 L482,454.5 L457.5,454.5 L457.5,459.4 Z" stroke="#111" stroke-width="0" fill="#5a5a5a"/>
<path d="M519.8,450 L563.6,450 L563.6,459.4 L553.7,459.4 L553.7,454.5 L530,454.5 Z" stroke="#111" stroke-width="0" fill="#1a1a1a"/>
<path d="M569.2,459.4 L569.2,450 L612.5,450 L602,454.5 L579.1,454.5 L579.1,459.4 Z" stroke="#111" stroke-width="0" fill="#1a1a1a"/>
<path d="M640.7,450 L685.9,450 L685.9,459.4 L675.3,459.4 L675.3,454.5 L652,454.5 Z" stroke="#111" stroke-width="0" fill="#1a1a1a"/>
<path d="M493.7,459.4 L496.7,454 L496.7,451.5 L514.7,451.5 L514.7,454 L517.7,459.4" stroke="#999" stroke-width="1" fill="none"/>
<line x1="505.7" y1="450.0" x2="505.7" y2="459.4" stroke="#111" stroke-width="2.2"/>
<path d="M615.6,459.4 L618.6,454 L618.6,451.5 L636.6,451.5 L636.6,454 L639.6,459.4" stroke="#999" stroke-width="1" fill="none"/>
<line x1="627.6" y1="450.0" x2="627.6" y2="459.4" stroke="#111" stroke-width="2.2"/>
<line x1="696.4" y1="433.5" x2="696.4" y2="459.4" stroke="#111" stroke-width="1"/>
<line x1="703.0" y1="438.0" x2="703.0" y2="459.4" stroke="#111" stroke-width="1"/>
<line x1="696.4" y1="434.5" x2="678.8" y2="450.0" stroke="#111" stroke-width="1"/>
<line x1="452.5" y1="475.6" x2="452.5" y2="513.7" stroke="#111" stroke-width="3"/>
<line x1="686.8" y1="475.6" x2="686.8" y2="513.7" stroke="#111" stroke-width="3"/>
<line x1="466.0" y1="487.3" x2="672.0" y2="487.3" stroke="#111" stroke-width="2.6"/>
<path d="M455.0,487.3 L470.0,481.8 L467.3,487.3 L470.0,492.8 Z" fill="#111"/>
<path d="M683.7,487.3 L668.7,492.8 L671.4,487.3 L668.7,481.8 Z" fill="#111"/>
<text x="531.1" y="502.6" font-size="12.8" font-weight="bold" fill="#111" text-anchor="start" textLength="87.0" lengthAdjust="spacingAndGlyphs">26 <tspan font-size="7.17" dy="-4.61">6/16"</tspan><tspan dy="4.61"> / 67 cm</tspan></text>
<path d="M443.5,478 L443.5,486 M450.5,478 L450.5,486 M443.5,482 L450.5,482" stroke="#111" stroke-width="1.4" fill="none"/>
<path d="M690.8,478 L690.8,487 M703.5,478 L703.5,487 M690.8,482.5 L703.5,482.5" stroke="#111" stroke-width="1.4" fill="none"/>
<line x1="446.5" y1="489.7" x2="431.0" y2="504.5" stroke="#111" stroke-width="1.6" stroke-dasharray="1.5 2.3"/>
<line x1="697.0" y1="489.0" x2="702.0" y2="501.0" stroke="#111" stroke-width="1.6" stroke-dasharray="1.5 2.3"/>
<text x="393.5" y="513.7" font-size="12" font-weight="bold" fill="#111" text-anchor="start" textLength="55.1" lengthAdjust="spacingAndGlyphs"><tspan font-size="6.72" dy="-4.32">2/16"</tspan><tspan dy="4.32">/0.3 cm</tspan></text>
<text x="694.0" y="504.8" font-size="12.8" font-weight="bold" fill="#111" text-anchor="start" textLength="64.5" lengthAdjust="spacingAndGlyphs">1" / 2.5 cm</text>
<path d="M492.8,558.6 L543.2,536.9 L643.2,562.9 L643.2,581.4 L592.8,603.1 L492.8,577.1 Z" stroke="#8c8c8c" stroke-width="1" fill="none"/>
<path d="M495.0,560.8 L543.2,539.3 L641.0,565.1 L641.0,579.2 L592.8,600.7 L495.0,574.9 Z" stroke="#8c8c8c" stroke-width="1" fill="none"/>
<line x1="592.8" y1="584.6" x2="592.8" y2="603.1" stroke="#8c8c8c" stroke-width="1"/>
<line x1="492.8" y1="558.6" x2="592.8" y2="584.6" stroke="#8c8c8c" stroke-width="1"/>
<line x1="592.8" y1="584.6" x2="643.2" y2="562.9" stroke="#8c8c8c" stroke-width="1"/>
<line x1="595.0" y1="584.6" x2="595.0" y2="600.9" stroke="#8c8c8c" stroke-width="1"/>
<line x1="544.3" y1="539.1" x2="544.3" y2="555.4" stroke="#8c8c8c" stroke-width="1"/>
<line x1="543.2" y1="555.4" x2="641.0" y2="581.4" stroke="#8c8c8c" stroke-width="1"/>
<line x1="543.2" y1="555.4" x2="495.0" y2="577.1" stroke="#8c8c8c" stroke-width="1"/>
<path d="M495,560.8 L592.2,585.6 L592.2,601.7 L495,576.9 Z" fill="#161616"/>
<line x1="489.0" y1="558.0" x2="489.0" y2="577.3" stroke="#333" stroke-width="1.4"/>
<line x1="486.5" y1="558.0" x2="491.5" y2="558.0" stroke="#333" stroke-width="1.2"/>
<line x1="486.5" y1="577.3" x2="491.5" y2="577.3" stroke="#333" stroke-width="1.2"/>
<text x="395.5" y="573.9" font-size="12.8" font-weight="bold" fill="#111" text-anchor="start" textLength="77.1" lengthAdjust="spacingAndGlyphs">2 <tspan font-size="7.17" dy="-4.61">12/16"</tspan><tspan dy="4.61"> / 7 cm</tspan></text>
<line x1="476.0" y1="568.6" x2="487.0" y2="568.6" stroke="#111" stroke-width="1.6" stroke-dasharray="1.5 2.3"/>
<line x1="492.4" y1="581.0" x2="591.8" y2="606.7" stroke="#111" stroke-width="1.6"/>
<line x1="492.4" y1="578.0" x2="492.4" y2="584.0" stroke="#111" stroke-width="1.2"/>
<line x1="591.8" y1="603.5" x2="591.8" y2="609.5" stroke="#111" stroke-width="1.2"/>
<line x1="594.0" y1="606.0" x2="644.0" y2="585.6" stroke="#111" stroke-width="1.6"/>
<line x1="594.0" y1="603.0" x2="594.0" y2="609.0" stroke="#111" stroke-width="1.2"/>
<line x1="644.0" y1="582.5" x2="644.0" y2="588.5" stroke="#111" stroke-width="1.2"/>
<text x="467.0" y="610.7" font-size="12.8" font-weight="bold" fill="#111" text-anchor="start" textLength="78.0" lengthAdjust="spacingAndGlyphs">50" / 127 cm</text>
<text x="622.6" y="610.5" font-size="12.8" font-weight="bold" fill="#111" text-anchor="start" textLength="90.8" lengthAdjust="spacingAndGlyphs">16 <tspan font-size="7.17" dy="-4.61">15/16"</tspan><tspan dy="4.61"> / 43 cm</tspan></text>
<line x1="525.0" y1="591.0" x2="518.0" y2="600.0" stroke="#111" stroke-width="1.6" stroke-dasharray="1.5 2.3"/>
<line x1="636.0" y1="590.0" x2="644.0" y2="598.0" stroke="#111" stroke-width="1.6" stroke-dasharray="1.5 2.3"/>
<path d="M860.0,491.3 L925.6,463.9 L1028.6,492.0 L1028.6,564.6 L963.0,592.0 L860.0,563.9 Z" stroke="#8c8c8c" stroke-width="1" fill="none"/>
<path d="M862.2,493.5 L925.6,466.3 L1026.4,494.2 L1026.4,562.4 L963.0,589.6 L862.2,561.7 Z" stroke="#8c8c8c" stroke-width="1" fill="none"/>
<line x1="963.0" y1="519.4" x2="963.0" y2="592.0" stroke="#8c8c8c" stroke-width="1"/>
<line x1="860.0" y1="491.3" x2="963.0" y2="519.4" stroke="#8c8c8c" stroke-width="1"/>
<line x1="963.0" y1="519.4" x2="1028.6" y2="492.0" stroke="#8c8c8c" stroke-width="1"/>
<line x1="965.2" y1="519.4" x2="965.2" y2="589.8" stroke="#8c8c8c" stroke-width="1"/>
<line x1="926.7" y1="466.1" x2="926.7" y2="533.0" stroke="#8c8c8c" stroke-width="1"/>
<line x1="925.6" y1="533.0" x2="1026.4" y2="561.1" stroke="#8c8c8c" stroke-width="1"/>
<line x1="925.6" y1="533.0" x2="862.2" y2="563.9" stroke="#8c8c8c" stroke-width="1"/>
<path d="M862.2,495 L963,520.9 L963,588.3 L862.2,562.4 Z" fill="#161616"/>
<line x1="852.6" y1="491.3" x2="852.6" y2="563.9" stroke="#333" stroke-width="1.4"/>
<line x1="850.0" y1="491.3" x2="855.0" y2="491.3" stroke="#333" stroke-width="1.2"/>
<line x1="850.0" y1="563.9" x2="855.0" y2="563.9" stroke="#333" stroke-width="1.2"/>
<line x1="858.0" y1="569.0" x2="962.2" y2="598.0" stroke="#111" stroke-width="1.6"/>
<line x1="858.0" y1="566.0" x2="858.0" y2="572.0" stroke="#111" stroke-width="1.2"/>
<line x1="962.2" y1="595.0" x2="962.2" y2="601.0" stroke="#111" stroke-width="1.2"/>
<line x1="967.4" y1="597.2" x2="1032.6" y2="567.6" stroke="#111" stroke-width="1.6"/>
<line x1="967.4" y1="594.0" x2="967.4" y2="600.0" stroke="#111" stroke-width="1.2"/>
<line x1="1032.6" y1="564.5" x2="1032.6" y2="570.5" stroke="#111" stroke-width="1.2"/>
<text x="850.1" y="446.6" font-size="15" font-weight="bold" fill="#111" text-anchor="start" textLength="215.4" lengthAdjust="spacingAndGlyphs">Main Oven Capacity: 3.5 cu. ft.*</text>
<line x1="978.5" y1="456.0" x2="978.5" y2="477.0" stroke="#111" stroke-width="1.6" stroke-dasharray="1.5 2.3"/>
<text x="745.1" y="538.9" font-size="12.8" font-weight="bold" fill="#111" text-anchor="start" textLength="86.7" lengthAdjust="spacingAndGlyphs">14 <tspan font-size="7.17" dy="-4.61">3/16"</tspan><tspan dy="4.61"> / 36 cm</tspan></text>
<line x1="838.0" y1="534.0" x2="850.0" y2="534.0" stroke="#111" stroke-width="1.6" stroke-dasharray="1.5 2.3"/>
<text x="821.4" y="610.2" font-size="12.8" font-weight="bold" fill="#111" text-anchor="start" textLength="81.4" lengthAdjust="spacingAndGlyphs">25" / 63.5 cm</text>
<text x="988.5" y="610.2" font-size="12.8" font-weight="bold" fill="#111" text-anchor="start" textLength="87.5" lengthAdjust="spacingAndGlyphs">16 <tspan font-size="7.17" dy="-4.61">2/16"</tspan><tspan dy="4.61"> / 41 cm</tspan></text>
<line x1="897.8" y1="583.9" x2="880.0" y2="599.4" stroke="#111" stroke-width="1.6" stroke-dasharray="1.5 2.3"/>
<line x1="1004.4" y1="583.9" x2="1016.3" y2="597.2" stroke="#111" stroke-width="1.6" stroke-dasharray="1.5 2.3"/>
<path d="M1190.6,490.9 L1257.2,462.8 L1360.6,490.9 L1360.6,563.9 L1294.0,592.0 L1190.6,563.9 Z" stroke="#8c8c8c" stroke-width="1" fill="none"/>
<path d="M1192.8,493.1 L1257.2,465.2 L1358.4,493.1 L1358.4,561.7 L1294.0,589.6 L1192.8,561.7 Z" stroke="#8c8c8c" stroke-width="1" fill="none"/>
<line x1="1294.0" y1="519.0" x2="1294.0" y2="592.0" stroke="#8c8c8c" stroke-width="1"/>
<line x1="1190.6" y1="490.9" x2="1294.0" y2="519.0" stroke="#8c8c8c" stroke-width="1"/>
<line x1="1294.0" y1="519.0" x2="1360.6" y2="490.9" stroke="#8c8c8c" stroke-width="1"/>
<line x1="1296.2" y1="519.0" x2="1296.2" y2="589.8" stroke="#8c8c8c" stroke-width="1"/>
<line x1="1258.3" y1="465.0" x2="1258.3" y2="532.3" stroke="#8c8c8c" stroke-width="1"/>
<line x1="1257.2" y1="532.3" x2="1358.4" y2="560.4" stroke="#8c8c8c" stroke-width="1"/>
<line x1="1257.2" y1="532.3" x2="1192.8" y2="563.9" stroke="#8c8c8c" stroke-width="1"/>
<path d="M1193.7,494.9 L1294,520.4 L1294,587.7 L1193.7,561.5 Z" fill="#161616"/>
<line x1="1183.4" y1="491.0" x2="1183.4" y2="563.0" stroke="#333" stroke-width="1.4"/>
<line x1="1181.0" y1="491.0" x2="1186.0" y2="491.0" stroke="#333" stroke-width="1.2"/>
<line x1="1181.0" y1="563.0" x2="1186.0" y2="563.0" stroke="#333" stroke-width="1.2"/>
<line x1="1189.4" y1="568.6" x2="1294.0" y2="597.2" stroke="#111" stroke-width="1.6"/>
<line x1="1189.4" y1="565.5" x2="1189.4" y2="571.5" stroke="#111" stroke-width="1.2"/>
<line x1="1294.0" y1="594.0" x2="1294.0" y2="600.0" stroke="#111" stroke-width="1.2"/>
<line x1="1297.6" y1="597.0" x2="1364.2" y2="567.4" stroke="#111" stroke-width="1.6"/>
<line x1="1297.6" y1="594.0" x2="1297.6" y2="600.0" stroke="#111" stroke-width="1.2"/>
<line x1="1364.2" y1="564.5" x2="1364.2" y2="570.5" stroke="#111" stroke-width="1.2"/>
<text x="1172.7" y="447.3" font-size="15" font-weight="bold" fill="#111" text-anchor="start" textLength="242.6" lengthAdjust="spacingAndGlyphs">Second Oven Capacity: 1.52 cu. ft.*</text>
<line x1="1315.5" y1="456.0" x2="1315.5" y2="476.0" stroke="#111" stroke-width="1.6" stroke-dasharray="1.5 2.3"/>
<text x="1095.5" y="529.1" font-size="12.8" font-weight="bold" fill="#111" text-anchor="start" textLength="83.2" lengthAdjust="spacingAndGlyphs">14 <tspan font-size="7.17" dy="-4.61">3/16"</tspan><tspan dy="4.61"> / 36 cm</tspan></text>
<line x1="1163.0" y1="518.0" x2="1182.0" y2="501.0" stroke="#111" stroke-width="1.6" stroke-dasharray="1.5 2.3"/>
<text x="1149.0" y="609.9" font-size="12.8" font-weight="bold" fill="#111" text-anchor="start" textLength="97.5" lengthAdjust="spacingAndGlyphs">17 <tspan font-size="7.17" dy="-4.61">2/16"</tspan><tspan dy="4.61"> / 43.5 cm</tspan></text>
<text x="1303.5" y="609.9" font-size="12.8" font-weight="bold" fill="#111" text-anchor="start" textLength="86.8" lengthAdjust="spacingAndGlyphs">16 <tspan font-size="7.17" dy="-4.61">2/16"</tspan><tspan dy="4.61"> / 41 cm</tspan></text>
<line x1="1230.0" y1="583.0" x2="1212.0" y2="599.0" stroke="#111" stroke-width="1.6" stroke-dasharray="1.5 2.3"/>
<line x1="1336.0" y1="583.0" x2="1349.0" y2="598.0" stroke="#111" stroke-width="1.6" stroke-dasharray="1.5 2.3"/>
<text x="1048.7" y="638.8" font-size="9.6" font-weight="normal" fill="#333" text-anchor="start" textLength="365.3" lengthAdjust="spacingAndGlyphs">*Usable space differs from Actual space due to the rack placements and rotisserie.</text>
<text x="872.3" y="648.7" font-size="9.6" font-weight="normal" fill="#333" text-anchor="start" textLength="541.7" lengthAdjust="spacingAndGlyphs">*Oven Capacity’s cubic feet is manufacturer’s measurement prior to installation of broiler, oven racks, and convection fan.</text>
<rect x="538.5" y="662.4" width="62.0" height="105.4" rx="0" stroke="#444" stroke-width="1" fill="none"/>
<line x1="538.5" y1="715.1" x2="600.5" y2="715.1" stroke="#222" stroke-width="1.2" stroke-dasharray="1.4 1.9"/>
<line x1="538.5" y1="767.3" x2="600.5" y2="767.3" stroke="#777" stroke-width="2.2"/>
<line x1="538.5" y1="767.8" x2="538.5" y2="780.5" stroke="#444" stroke-width="1"/>
<line x1="600.5" y1="767.8" x2="600.5" y2="971.7" stroke="#444" stroke-width="1"/>
<line x1="538.5" y1="779.2" x2="561.5" y2="779.2" stroke="#444" stroke-width="1"/>
<line x1="579.0" y1="779.2" x2="600.5" y2="779.2" stroke="#444" stroke-width="1"/>
<circle cx="570.3" cy="779.2" r="7.5" stroke="#444" stroke-width="1" fill="#fff"/>
<text x="570.3" y="784.4" font-size="14.5" fill="#111" text-anchor="middle">1</text>
<rect x="502.0" y="828.7" width="98.0" height="6.0" rx="0" stroke="#444" stroke-width="1" fill="none"/>
<g transform="translate(46.804,796.899) scale(0.3889,0.4725)">
<path d="M1173,67.3 L1173,58.2 L1215,58.2 L1206,62 L1184.5,62 L1184.5,67.3" stroke="#444" stroke-width="0.9" fill="none" vector-effect="non-scaling-stroke"/>
<path d="M1214,67.3 L1219,63.5 L1219,60 L1238,60 L1238,63.5 L1243,67.3 M1219,63.5 L1238,63.5" stroke="#444" stroke-width="0.8370000000000001" fill="none" vector-effect="non-scaling-stroke"/>
<line x1="1228.5" y1="57.0" x2="1228.5" y2="67.3" stroke="#444" stroke-width="1.4" vector-effect="non-scaling-stroke"/>
<path d="M1241,58.2 L1283,58.2 L1283,67.3 M1241,58.2 L1254,62 L1274,62 L1274,67.3" stroke="#444" stroke-width="0.9" fill="none" vector-effect="non-scaling-stroke"/>
<path d="M1286,67.3 L1286,58.2 L1328,58.2 L1319,62 L1297.5,62 L1297.5,67.3" stroke="#444" stroke-width="0.9" fill="none" vector-effect="non-scaling-stroke"/>
<path d="M1327,67.3 L1332,63.5 L1332,60 L1351,60 L1351,63.5 L1356,67.3 M1332,63.5 L1351,63.5" stroke="#444" stroke-width="0.8370000000000001" fill="none" vector-effect="non-scaling-stroke"/>
<line x1="1341.5" y1="57.0" x2="1341.5" y2="67.3" stroke="#444" stroke-width="1.4" vector-effect="non-scaling-stroke"/>
<path d="M1354,58.2 L1396.7,58.2 L1396.7,67.3 M1354,58.2 L1367,62 L1387,62 L1387,67.3" stroke="#444" stroke-width="0.9" fill="none" vector-effect="non-scaling-stroke"/>
</g>
<path d="M590,824.4 L598.8,818 L598.8,828.7 M596.5,820 L596.5,828.7" stroke="#444" stroke-width="1" fill="none"/>
<rect x="498.5" y="827.5" width="3.5" height="4.5" rx="0" stroke="#444" stroke-width="1" fill="#fff"/>
<circle cx="495.3" cy="829.7" r="2.9" stroke="#222" stroke-width="1.7" fill="#fff"/>
<line x1="505.0" y1="834.7" x2="505.0" y2="950.3" stroke="#444" stroke-width="1"/>
<line x1="511.3" y1="834.7" x2="511.3" y2="943.3" stroke="#444" stroke-width="1"/>
<line x1="594.7" y1="834.7" x2="594.7" y2="943.3" stroke="#444" stroke-width="1"/>
<line x1="505.0" y1="943.3" x2="594.7" y2="943.3" stroke="#444" stroke-width="1"/>
<line x1="594.7" y1="943.3" x2="594.7" y2="950.3" stroke="#444" stroke-width="1"/>
<line x1="505.0" y1="950.3" x2="594.7" y2="950.3" stroke="#444" stroke-width="1"/>
<rect x="511.3" y="950.3" width="11.2" height="13.7" rx="0" stroke="#444" stroke-width="1" fill="none"/>
<line x1="512.5" y1="964.8" x2="521.3" y2="964.8" stroke="#666" stroke-width="1.6"/>
<rect x="577.5" y="950.3" width="10.8" height="13.7" rx="0" stroke="#444" stroke-width="1" fill="none"/>
<line x1="578.7" y1="964.8" x2="587.1" y2="964.8" stroke="#666" stroke-width="1.6"/>
<rect x="594.7" y="947.0" width="5.8" height="18.0" rx="0" stroke="#444" stroke-width="0.8" fill="#777"/>
<rect x="432.0" y="923.3" width="73.0" height="6.4" rx="0" stroke="#444" stroke-width="1" fill="none"/>
<circle cx="440.0" cy="935.0" r="3" stroke="#444" stroke-width="1.2" fill="#fff"/>
<line x1="408.3" y1="828.3" x2="493.0" y2="828.3" stroke="#444" stroke-width="1"/>
<line x1="408.3" y1="965.0" x2="500.8" y2="965.0" stroke="#444" stroke-width="1"/>
<line x1="410.0" y1="828.3" x2="410.0" y2="889.0" stroke="#444" stroke-width="1"/>
<line x1="410.0" y1="904.5" x2="410.0" y2="965.0" stroke="#444" stroke-width="1"/>
<circle cx="410.0" cy="896.7" r="7.5" stroke="#444" stroke-width="1" fill="#fff"/>
<text x="410.0" y="901.9" font-size="14.5" fill="#111" text-anchor="middle">3</text>
<line x1="594.0" y1="971.7" x2="600.5" y2="971.7" stroke="#444" stroke-width="1"/>
<circle cx="588.0" cy="971.7" r="7.5" stroke="#444" stroke-width="1" fill="#fff"/>
<text x="588.0" y="976.9" font-size="14.5" fill="#111" text-anchor="middle">F</text>
<rect x="652.2" y="662.4" width="130.3" height="105.2" rx="0" stroke="#444" stroke-width="1" fill="none"/>
<line x1="660.4" y1="662.4" x2="660.4" y2="767.6" stroke="#444" stroke-width="1"/>
<line x1="709.5" y1="662.4" x2="709.5" y2="767.6" stroke="#444" stroke-width="1"/>
<line x1="717.3" y1="662.4" x2="717.3" y2="767.6" stroke="#444" stroke-width="1"/>
<line x1="725.2" y1="662.4" x2="725.2" y2="767.6" stroke="#444" stroke-width="1"/>
<line x1="774.4" y1="662.4" x2="774.4" y2="767.6" stroke="#444" stroke-width="1"/>
<line x1="660.4" y1="670.4" x2="709.5" y2="670.4" stroke="#444" stroke-width="1"/>
<line x1="660.4" y1="759.5" x2="709.5" y2="759.5" stroke="#444" stroke-width="1"/>
<line x1="725.2" y1="670.4" x2="774.4" y2="670.4" stroke="#444" stroke-width="1"/>
<line x1="725.2" y1="759.5" x2="774.4" y2="759.5" stroke="#444" stroke-width="1"/>
<rect x="932.5" y="662.4" width="129.9" height="105.2" rx="0" stroke="#444" stroke-width="1" fill="none"/>
<line x1="940.6" y1="662.4" x2="940.6" y2="767.6" stroke="#444" stroke-width="1"/>
<line x1="989.7" y1="662.4" x2="989.7" y2="767.6" stroke="#444" stroke-width="1"/>
<line x1="997.6" y1="662.4" x2="997.6" y2="767.6" stroke="#444" stroke-width="1"/>
<line x1="1005.7" y1="662.4" x2="1005.7" y2="767.6" stroke="#444" stroke-width="1"/>
<line x1="1054.5" y1="662.4" x2="1054.5" y2="767.6" stroke="#444" stroke-width="1"/>
<line x1="940.6" y1="670.2" x2="989.7" y2="670.2" stroke="#444" stroke-width="1"/>
<line x1="940.6" y1="759.5" x2="989.7" y2="759.5" stroke="#444" stroke-width="1"/>
<line x1="1005.7" y1="670.2" x2="1054.5" y2="670.2" stroke="#444" stroke-width="1"/>
<line x1="1005.7" y1="759.5" x2="1054.5" y2="759.5" stroke="#444" stroke-width="1"/>
<rect x="782.4" y="662.4" width="150.0" height="52.6" rx="0" stroke="#444" stroke-width="1" fill="none"/>
<line x1="790.6" y1="662.4" x2="790.6" y2="715.0" stroke="#444" stroke-width="1"/>
<line x1="923.5" y1="662.4" x2="923.5" y2="715.0" stroke="#444" stroke-width="1"/>
<line x1="790.6" y1="670.4" x2="923.5" y2="670.4" stroke="#444" stroke-width="1"/>
<line x1="790.6" y1="706.6" x2="923.5" y2="706.6" stroke="#444" stroke-width="1"/>
<line x1="782.4" y1="715.0" x2="782.4" y2="767.6" stroke="#444" stroke-width="1"/>
<line x1="782.4" y1="731.4" x2="846.5" y2="731.4" stroke="#444" stroke-width="1"/>
<line x1="868.5" y1="731.4" x2="932.4" y2="731.4" stroke="#444" stroke-width="1"/>
<circle cx="857.5" cy="731.4" r="7.5" stroke="#444" stroke-width="1" fill="#fff"/>
<text x="857.5" y="736.6" font-size="14.5" fill="#111" text-anchor="middle">C</text>
<line x1="920.5" y1="715.0" x2="920.5" y2="766.0" stroke="#444" stroke-width="1"/>
<line x1="920.5" y1="790.0" x2="920.5" y2="841.5" stroke="#444" stroke-width="1"/>
<circle cx="920.5" cy="778.0" r="7.5" stroke="#444" stroke-width="1" fill="#fff"/>
<text x="920.5" y="783.2" font-size="14.5" fill="#111" text-anchor="middle">B</text>
<rect x="1062.4" y="662.2" width="63.7" height="289.9" rx="0" stroke="#444" stroke-width="1" fill="none"/>
<rect x="1070.8" y="670.6" width="47.1" height="273.5" rx="0" stroke="#444" stroke-width="1" fill="none"/>
<line x1="651.5" y1="842.0" x2="782.5" y2="842.0" stroke="#444" stroke-width="1.6"/>
<line x1="651.5" y1="845.5" x2="782.5" y2="845.5" stroke="#444" stroke-width="1"/>
<line x1="651.5" y1="842.0" x2="651.5" y2="952.2" stroke="#444" stroke-width="1"/>
<line x1="782.5" y1="842.0" x2="782.5" y2="952.2" stroke="#444" stroke-width="1"/>
<line x1="651.5" y1="873.0" x2="782.5" y2="873.0" stroke="#444" stroke-width="1"/>
<line x1="651.5" y1="899.0" x2="782.5" y2="899.0" stroke="#444" stroke-width="1"/>
<line x1="703.3" y1="850.5" x2="731.3" y2="850.5" stroke="#555" stroke-width="2"/>
<line x1="703.3" y1="877.0" x2="731.3" y2="877.0" stroke="#555" stroke-width="2"/>
<line x1="660.0" y1="899.0" x2="660.0" y2="952.2" stroke="#444" stroke-width="1"/>
<line x1="774.5" y1="899.0" x2="774.5" y2="952.2" stroke="#444" stroke-width="1"/>
<line x1="660.0" y1="907.8" x2="774.5" y2="907.8" stroke="#444" stroke-width="1"/>
<line x1="660.0" y1="944.5" x2="774.5" y2="944.5" stroke="#444" stroke-width="1"/>
<line x1="651.5" y1="952.2" x2="782.5" y2="952.2" stroke="#444" stroke-width="1"/>
<line x1="932.6" y1="842.0" x2="1062.3" y2="842.0" stroke="#444" stroke-width="1.6"/>
<line x1="932.6" y1="845.5" x2="1062.3" y2="845.5" stroke="#444" stroke-width="1"/>
<line x1="932.6" y1="842.0" x2="932.6" y2="952.2" stroke="#444" stroke-width="1"/>
<line x1="1062.3" y1="842.0" x2="1062.3" y2="952.2" stroke="#444" stroke-width="1"/>
<line x1="932.6" y1="873.0" x2="1062.3" y2="873.0" stroke="#444" stroke-width="1"/>
<line x1="932.6" y1="899.0" x2="1062.3" y2="899.0" stroke="#444" stroke-width="1"/>
<line x1="984.1" y1="850.5" x2="1012.1" y2="850.5" stroke="#555" stroke-width="2"/>
<line x1="984.1" y1="877.0" x2="1012.1" y2="877.0" stroke="#555" stroke-width="2"/>
<line x1="941.1" y1="899.0" x2="941.1" y2="952.2" stroke="#444" stroke-width="1"/>
<line x1="1054.3" y1="899.0" x2="1054.3" y2="952.2" stroke="#444" stroke-width="1"/>
<line x1="941.1" y1="907.8" x2="1054.3" y2="907.8" stroke="#444" stroke-width="1"/>
<line x1="941.1" y1="944.5" x2="1054.3" y2="944.5" stroke="#444" stroke-width="1"/>
<line x1="932.6" y1="952.2" x2="1062.3" y2="952.2" stroke="#444" stroke-width="1"/>
<rect x="653.3" y="952.2" width="126.9" height="13.0" rx="0" stroke="#444" stroke-width="1" fill="none"/>
<rect x="934.0" y="952.1" width="190.4" height="12.9" rx="0" stroke="#444" stroke-width="1" fill="none"/>
<line x1="782.5" y1="832.9" x2="932.4" y2="832.9" stroke="#444" stroke-width="1"/>
<line x1="782.5" y1="832.9" x2="782.5" y2="965.0" stroke="#444" stroke-width="1"/>
<line x1="932.4" y1="832.9" x2="932.4" y2="965.0" stroke="#444" stroke-width="1"/>
<line x1="782.5" y1="855.2" x2="846.5" y2="855.2" stroke="#444" stroke-width="1"/>
<line x1="868.0" y1="855.2" x2="932.4" y2="855.2" stroke="#444" stroke-width="1"/>
<circle cx="857.2" cy="855.2" r="7.5" stroke="#444" stroke-width="1" fill="#fff"/>
<text x="857.2" y="860.4" font-size="14.5" fill="#111" text-anchor="middle">A</text>
<line x1="932.4" y1="824.1" x2="988.0" y2="824.1" stroke="#444" stroke-width="1"/>
<line x1="1008.5" y1="824.1" x2="1062.3" y2="824.1" stroke="#444" stroke-width="1"/>
<circle cx="998.0" cy="824.1" r="7.5" stroke="#444" stroke-width="1" fill="#fff"/>
<text x="998.0" y="829.3" font-size="14.5" fill="#111" text-anchor="middle">4</text>
<line x1="976.8" y1="767.6" x2="976.8" y2="795.0" stroke="#444" stroke-width="1"/>
<line x1="976.8" y1="814.5" x2="976.8" y2="841.6" stroke="#444" stroke-width="1"/>
<circle cx="976.8" cy="804.8" r="7.5" stroke="#444" stroke-width="1" fill="#fff"/>
<text x="976.8" y="810.0" font-size="14.5" fill="#111" text-anchor="middle">2</text>
<defs><pattern id="hatch" width="3.4" height="3.4" patternUnits="userSpaceOnUse" patternTransform="rotate(45)"><rect width="3.4" height="3.4" fill="#fff"/><line x1="0.6" y1="0" x2="0.6" y2="3.4" stroke="#333" stroke-width="1.1"/></pattern></defs>
<rect x="782.5" y="946.7" width="58.8" height="18.2" rx="0" stroke="#444" stroke-width="1" fill="url(#hatch)"/>
<rect x="873.3" y="946.7" width="59.1" height="18.2" rx="0" stroke="#444" stroke-width="1" fill="url(#hatch)"/>
<line x1="782.5" y1="964.9" x2="932.4" y2="964.9" stroke="#444" stroke-width="1"/>
<line x1="782.5" y1="934.5" x2="800.5" y2="934.5" stroke="#444" stroke-width="1"/>
<line x1="823.0" y1="934.5" x2="841.3" y2="934.5" stroke="#444" stroke-width="1"/>
<line x1="841.3" y1="934.5" x2="841.3" y2="964.9" stroke="#444" stroke-width="1"/>
<line x1="873.3" y1="934.5" x2="891.0" y2="934.5" stroke="#444" stroke-width="1"/>
<line x1="914.0" y1="934.5" x2="932.4" y2="934.5" stroke="#444" stroke-width="1"/>
<line x1="873.3" y1="934.5" x2="873.3" y2="964.9" stroke="#444" stroke-width="1"/>
<circle cx="811.6" cy="934.5" r="7.5" stroke="#444" stroke-width="1" fill="#fff"/>
<text x="811.6" y="939.7" font-size="14.5" fill="#111" text-anchor="middle">D</text>
<circle cx="902.4" cy="934.5" r="7.5" stroke="#444" stroke-width="1" fill="#fff"/>
<text x="902.4" y="939.7" font-size="14.5" fill="#111" text-anchor="middle">D</text>
<line x1="841.3" y1="946.7" x2="854.0" y2="946.7" stroke="#444" stroke-width="1"/>
<circle cx="853.2" cy="955.6" r="7.5" stroke="#444" stroke-width="1" fill="#fff"/>
<text x="853.2" y="960.8" font-size="14.5" fill="#111" text-anchor="middle">E</text>
<rect x="799.6" y="949" width="24" height="13" fill="#fff" opacity="0"/>
<text x="811.6" y="960" font-size="13.5" fill="#111" text-anchor="middle" textLength="22.5" lengthAdjust="spacingAndGlyphs">E,G</text>
<rect x="890.4" y="949" width="24" height="13" fill="#fff" opacity="0"/>
<text x="902.4" y="960" font-size="13.5" fill="#111" text-anchor="middle" textLength="22.5" lengthAdjust="spacingAndGlyphs">E,G</text>
<text x="650.6" y="988.3" font-size="12" font-weight="normal" fill="#222" text-anchor="start" textLength="487.4" lengthAdjust="spacingAndGlyphs">THE SHADED AREA REPRESENTS THE INSTALLATION AREA FOR THE CONNECTIONS;</text>
<text x="650.6" y="1010.7" font-size="12" font-weight="normal" fill="#222" text-anchor="start" textLength="155.4" lengthAdjust="spacingAndGlyphs">E ; ELECTRIC CONNECTION</text>
<text x="650.6" y="1028.3" font-size="12" font-weight="normal" fill="#222" text-anchor="start" textLength="42.4" lengthAdjust="spacingAndGlyphs">G ; GAS</text>
<rect x="1147.1" y="662.9" width="234.4" height="383.2" rx="0" stroke="#333" stroke-width="1.5" fill="none"/>
<line x1="1147.1" y1="683.8" x2="1381.5" y2="683.8" stroke="#333" stroke-width="1.5"/>
<line x1="1147.1" y1="716.4" x2="1381.5" y2="716.4" stroke="#333" stroke-width="1.5"/>
<line x1="1147.1" y1="759.4" x2="1381.5" y2="759.4" stroke="#333" stroke-width="1.5"/>
<line x1="1147.1" y1="791.7" x2="1381.5" y2="791.7" stroke="#333" stroke-width="1.5"/>
<line x1="1147.1" y1="824.5" x2="1381.5" y2="824.5" stroke="#333" stroke-width="1.5"/>
<line x1="1147.1" y1="860.5" x2="1381.5" y2="860.5" stroke="#333" stroke-width="1.5"/>
<line x1="1147.1" y1="925.4" x2="1381.5" y2="925.4" stroke="#333" stroke-width="1.5"/>
<line x1="1147.1" y1="947.3" x2="1381.5" y2="947.3" stroke="#333" stroke-width="1.5"/>
<line x1="1147.1" y1="979.3" x2="1381.5" y2="979.3" stroke="#333" stroke-width="1.5"/>
<line x1="1147.1" y1="1013.1" x2="1381.5" y2="1013.1" stroke="#333" stroke-width="1.5"/>
<line x1="1172.6" y1="662.9" x2="1172.6" y2="1046.1" stroke="#333" stroke-width="1.5"/>
<line x1="1253.3" y1="662.9" x2="1253.3" y2="1046.1" stroke="#333" stroke-width="1.5"/>
<text x="1180.6" y="676.5" font-size="9.4" font-weight="bold" fill="#1a1a1a" text-anchor="start" textLength="54.5" lengthAdjust="spacingAndGlyphs">DIMENSIONS</text>
<text x="1260.9" y="676.5" font-size="9.4" font-weight="bold" fill="#1a1a1a" text-anchor="start" textLength="56.0" lengthAdjust="spacingAndGlyphs">DESCRIPTION</text>
<text x="1154.5" y="698.0" font-size="9.8" font-weight="normal" fill="#333" text-anchor="start">1</text>
<text x="1180.6" y="698.0" font-size="9.8" font-weight="normal" fill="#333" text-anchor="start">13" (330 mm)</text>
<text x="1260.9" y="698.0" font-size="9.8" font-weight="normal" fill="#333" text-anchor="start">Maximum depth of top</text>
<text x="1260.9" y="708.9" font-size="9.8" font-weight="normal" fill="#333" text-anchor="start">cabinet</text>
<text x="1154.5" y="730.6" font-size="9.8" font-weight="normal" fill="#333" text-anchor="start">2</text>
<text x="1180.6" y="730.6" font-size="9.8" font-weight="normal" fill="#333" text-anchor="start">18" (547 mm)</text>
<text x="1260.9" y="730.6" font-size="9.8" font-weight="normal" fill="#333" text-anchor="start">Minimum distance to</text>
<text x="1260.9" y="741.5" font-size="9.8" font-weight="normal" fill="#333" text-anchor="start">bottom edge of top</text>
<text x="1260.9" y="752.4" font-size="9.8" font-weight="normal" fill="#333" text-anchor="start">cabinet</text>
<text x="1154.5" y="773.6" font-size="9.8" font-weight="normal" fill="#333" text-anchor="start">3</text>
<text x="1180.6" y="773.6" font-size="9.8" font-weight="normal" fill="#333" text-anchor="start">35 ½"-37"</text>
<text x="1180.6" y="784.5" font-size="9.8" font-weight="normal" fill="#333" text-anchor="start">(901-940 mm)</text>
<text x="1260.9" y="773.6" font-size="9.8" font-weight="normal" fill="#333" text-anchor="start">Distance from the floor to</text>
<text x="1260.9" y="784.5" font-size="9.8" font-weight="normal" fill="#333" text-anchor="start">cooktop surface</text>
<text x="1154.5" y="805.9" font-size="9.8" font-weight="normal" fill="#333" text-anchor="start">4</text>
<text x="1180.6" y="805.9" font-size="9.8" font-weight="normal" fill="#333" text-anchor="start">12"</text>
<text x="1260.9" y="805.9" font-size="9.8" font-weight="normal" fill="#333" text-anchor="start">Minimum distance from</text>
<text x="1260.9" y="816.8" font-size="9.8" font-weight="normal" fill="#333" text-anchor="start">cooktop surface</text>
<text x="1154.5" y="838.7" font-size="9.8" font-weight="normal" fill="#333" text-anchor="start">A</text>
<text x="1180.6" y="838.7" font-size="9.8" font-weight="normal" fill="#333" text-anchor="start">59 <tspan font-size="5.49" dy="-3.53">7/16"</tspan><tspan dy="3.53">/ 151 cm</tspan></text>
<text x="1260.9" y="838.7" font-size="9.8" font-weight="normal" fill="#333" text-anchor="start">Width of cabinet opening</text>
<text x="1154.5" y="874.7" font-size="9.8" font-weight="normal" fill="#333" text-anchor="start">B</text>
<text x="1180.6" y="874.7" font-size="9.8" font-weight="normal" fill="#333" text-anchor="start">30"(762mm)</text>
<text x="1260.9" y="874.7" font-size="9.8" font-weight="normal" fill="#333" text-anchor="start">Minimum distance</text>
<text x="1260.9" y="885.6" font-size="9.8" font-weight="normal" fill="#333" text-anchor="start">between the top of the</text>
<text x="1260.9" y="896.5" font-size="9.8" font-weight="normal" fill="#333" text-anchor="start">cooking area and bot-</text>
<text x="1260.9" y="907.4" font-size="9.8" font-weight="normal" fill="#333" text-anchor="start">tom of an unprotected</text>
<text x="1260.9" y="918.3" font-size="9.8" font-weight="normal" fill="#333" text-anchor="start">combustible surface</text>
<text x="1154.5" y="939.6" font-size="9.8" font-weight="normal" fill="#333" text-anchor="start">C</text>
<text x="1180.6" y="939.6" font-size="9.8" font-weight="normal" fill="#333" text-anchor="start">59 <tspan font-size="5.49" dy="-3.53">7/16"</tspan><tspan dy="3.53">/ 151 cm</tspan></text>
<text x="1260.9" y="939.6" font-size="9.8" font-weight="normal" fill="#333" text-anchor="start">Width of the hood area</text>
<text x="1154.5" y="961.5" font-size="9.8" font-weight="normal" fill="#333" text-anchor="start">D</text>
<text x="1180.6" y="961.5" font-size="9.8" font-weight="normal" fill="#333" text-anchor="start">Approx. 10<tspan font-size="5.49" dy="-3.53">13/16"</tspan><tspan dy="3.53"></tspan></text>
<text x="1180.6" y="972.4" font-size="9.8" font-weight="normal" fill="#333" text-anchor="start">'274mm)</text>
<text x="1260.9" y="961.5" font-size="9.8" font-weight="normal" fill="#333" text-anchor="start">Maximum connection</text>
<text x="1260.9" y="972.4" font-size="9.8" font-weight="normal" fill="#333" text-anchor="start">with right and left</text>
<text x="1154.5" y="993.5" font-size="9.8" font-weight="normal" fill="#333" text-anchor="start">E</text>
<text x="1180.6" y="993.5" font-size="9.8" font-weight="normal" fill="#333" text-anchor="start">Approx. 4 <tspan font-size="5.49" dy="-3.53">½"</tspan><tspan dy="3.53"></tspan></text>
<text x="1180.6" y="1004.4" font-size="9.8" font-weight="normal" fill="#333" text-anchor="start">(115mm)</text>
<text x="1260.9" y="993.5" font-size="9.8" font-weight="normal" fill="#333" text-anchor="start">Maximum connection</text>
<text x="1260.9" y="1004.4" font-size="9.8" font-weight="normal" fill="#333" text-anchor="start">height</text>
<text x="1154.5" y="1027.3" font-size="9.8" font-weight="normal" fill="#333" text-anchor="start">F</text>
<text x="1180.6" y="1027.3" font-size="9.8" font-weight="normal" fill="#333" text-anchor="start">Approx. 2<tspan font-size="5.49" dy="-3.53">13/16"</tspan><tspan dy="3.53"></tspan></text>
<text x="1180.6" y="1038.2" font-size="9.8" font-weight="normal" fill="#333" text-anchor="start">(72mm)</text>
<text x="1260.9" y="1027.3" font-size="9.8" font-weight="normal" fill="#333" text-anchor="start">Maximum connection</text>
<text x="1260.9" y="1038.2" font-size="9.8" font-weight="normal" fill="#333" text-anchor="start">depth</text>
</svg></body></html>
